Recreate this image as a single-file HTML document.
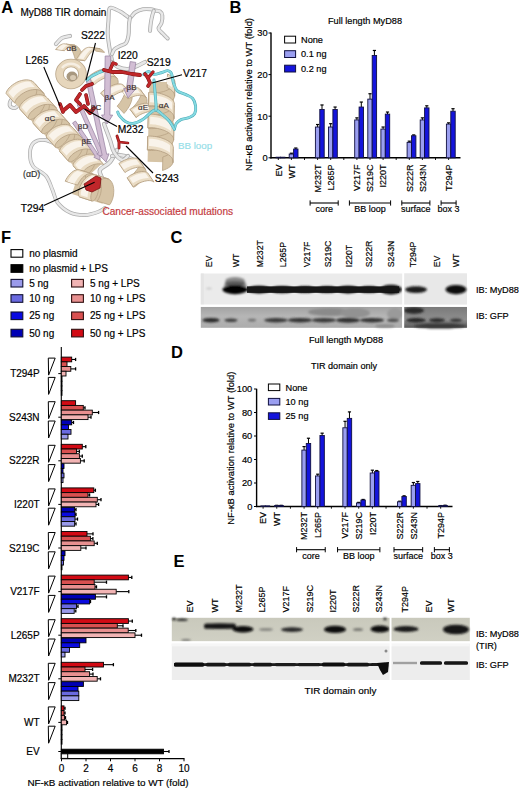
<!DOCTYPE html>
<html><head><meta charset="utf-8"><style>
html,body{margin:0;padding:0;background:#fff;width:520px;height:790px;overflow:hidden}
svg text{font-family:"Liberation Sans", sans-serif}
</style></head><body>
<svg width="520" height="790" viewBox="0 0 520 790" style="position:absolute;left:0;top:0">
<g font-family='"Liberation Sans", sans-serif'>
<text x="365.00" y="24.30" font-size="9.2" text-anchor="middle" fill="#000" font-weight="normal" stroke="#000" stroke-width="0.18" >Full length MyD88</text>
<text transform="translate(251.60,94.50) rotate(-90)" font-size="9.4" text-anchor="middle" fill="#000" stroke="#000" stroke-width="0.18">NF-κB activation relative to WT (fold)</text>
<text x="267.60" y="161.10" font-size="9.3" text-anchor="end" fill="#000" font-weight="normal" stroke="#000" stroke-width="0.18" >0</text>
<text x="267.60" y="119.50" font-size="9.3" text-anchor="end" fill="#000" font-weight="normal" stroke="#000" stroke-width="0.18" >10</text>
<text x="267.60" y="77.90" font-size="9.3" text-anchor="end" fill="#000" font-weight="normal" stroke="#000" stroke-width="0.18" >20</text>
<text x="267.60" y="36.30" font-size="9.3" text-anchor="end" fill="#000" font-weight="normal" stroke="#000" stroke-width="0.18" >30</text>
<rect x="284.60" y="36.20" width="11.00" height="6.80" fill="#fff" stroke="#000" stroke-width="1.0"/>
<text x="301.00" y="42.80" font-size="9.2" text-anchor="start" fill="#000" font-weight="normal" stroke="#000" stroke-width="0.18" >None</text>
<rect x="284.60" y="50.70" width="11.00" height="6.80" fill="#9a9ef0" stroke="#101040" stroke-width="1.0"/>
<text x="301.00" y="57.30" font-size="9.2" text-anchor="start" fill="#000" font-weight="normal" stroke="#000" stroke-width="0.18" >0.1 ng</text>
<rect x="284.60" y="65.20" width="11.00" height="6.80" fill="#1414dc" stroke="#101040" stroke-width="1.0"/>
<text x="301.00" y="71.80" font-size="9.2" text-anchor="start" fill="#000" font-weight="normal" stroke="#000" stroke-width="0.18" >0.2 ng</text>
<line x1="271.00" y1="32.50" x2="271.00" y2="158.40" stroke="#000" stroke-width="1.4"/>
<line x1="270.40" y1="157.80" x2="460.50" y2="157.80" stroke="#000" stroke-width="1.4"/>
<line x1="268.50" y1="157.80" x2="271.00" y2="157.80" stroke="#000" stroke-width="1"/>
<line x1="268.50" y1="116.20" x2="271.00" y2="116.20" stroke="#000" stroke-width="1"/>
<line x1="268.50" y1="74.60" x2="271.00" y2="74.60" stroke="#000" stroke-width="1"/>
<line x1="268.50" y1="33.00" x2="271.00" y2="33.00" stroke="#000" stroke-width="1"/>
<line x1="278.30" y1="157.80" x2="278.30" y2="160.00" stroke="#000" stroke-width="0.9"/>
<line x1="291.40" y1="157.80" x2="291.40" y2="160.00" stroke="#000" stroke-width="0.9"/>
<line x1="304.50" y1="157.80" x2="304.50" y2="160.00" stroke="#000" stroke-width="0.9"/>
<line x1="317.60" y1="157.80" x2="317.60" y2="160.00" stroke="#000" stroke-width="0.9"/>
<line x1="330.70" y1="157.80" x2="330.70" y2="160.00" stroke="#000" stroke-width="0.9"/>
<line x1="343.80" y1="157.80" x2="343.80" y2="160.00" stroke="#000" stroke-width="0.9"/>
<line x1="356.90" y1="157.80" x2="356.90" y2="160.00" stroke="#000" stroke-width="0.9"/>
<line x1="370.00" y1="157.80" x2="370.00" y2="160.00" stroke="#000" stroke-width="0.9"/>
<line x1="383.10" y1="157.80" x2="383.10" y2="160.00" stroke="#000" stroke-width="0.9"/>
<line x1="396.20" y1="157.80" x2="396.20" y2="160.00" stroke="#000" stroke-width="0.9"/>
<line x1="409.30" y1="157.80" x2="409.30" y2="160.00" stroke="#000" stroke-width="0.9"/>
<line x1="422.40" y1="157.80" x2="422.40" y2="160.00" stroke="#000" stroke-width="0.9"/>
<line x1="435.50" y1="157.80" x2="435.50" y2="160.00" stroke="#000" stroke-width="0.9"/>
<line x1="448.60" y1="157.80" x2="448.60" y2="160.00" stroke="#000" stroke-width="0.9"/>
<rect x="276.10" y="157.20" width="4.40" height="0.60" fill="#9a9ef0" stroke="#101040" stroke-width="0.9"/>
<rect x="280.50" y="157.20" width="4.40" height="0.60" fill="#1414dc" stroke="#101040" stroke-width="0.9"/>
<text transform="translate(281.50,164.40) rotate(-90)" font-size="9" text-anchor="end" fill="#000" stroke="#000" stroke-width="0.18">EV</text>
<line x1="291.40" y1="153.22" x2="291.40" y2="154.06" stroke="#000" stroke-width="1.0"/>
<line x1="289.80" y1="153.22" x2="293.00" y2="153.22" stroke="#000" stroke-width="1.2"/>
<rect x="289.20" y="154.06" width="4.40" height="3.74" fill="#9a9ef0" stroke="#101040" stroke-width="0.9"/>
<line x1="295.80" y1="148.02" x2="295.80" y2="149.06" stroke="#000" stroke-width="1.0"/>
<line x1="294.20" y1="148.02" x2="297.40" y2="148.02" stroke="#000" stroke-width="1.2"/>
<rect x="293.60" y="149.06" width="4.40" height="8.74" fill="#1414dc" stroke="#101040" stroke-width="0.9"/>
<text transform="translate(294.60,164.40) rotate(-90)" font-size="9" text-anchor="end" fill="#000" stroke="#000" stroke-width="0.18">WT</text>
<line x1="317.60" y1="124.52" x2="317.60" y2="127.02" stroke="#000" stroke-width="1.0"/>
<line x1="316.00" y1="124.52" x2="319.20" y2="124.52" stroke="#000" stroke-width="1.2"/>
<rect x="315.40" y="127.02" width="4.40" height="30.78" fill="#9a9ef0" stroke="#101040" stroke-width="0.9"/>
<line x1="322.00" y1="104.97" x2="322.00" y2="109.54" stroke="#000" stroke-width="1.0"/>
<line x1="320.40" y1="104.97" x2="323.60" y2="104.97" stroke="#000" stroke-width="1.2"/>
<rect x="319.80" y="109.54" width="4.40" height="48.26" fill="#1414dc" stroke="#101040" stroke-width="0.9"/>
<text transform="translate(320.80,164.40) rotate(-90)" font-size="9" text-anchor="end" fill="#000" stroke="#000" stroke-width="0.18">M232T</text>
<line x1="330.70" y1="123.69" x2="330.70" y2="127.02" stroke="#000" stroke-width="1.0"/>
<line x1="329.10" y1="123.69" x2="332.30" y2="123.69" stroke="#000" stroke-width="1.2"/>
<rect x="328.50" y="127.02" width="4.40" height="30.78" fill="#9a9ef0" stroke="#101040" stroke-width="0.9"/>
<line x1="335.10" y1="107.05" x2="335.10" y2="109.54" stroke="#000" stroke-width="1.0"/>
<line x1="333.50" y1="107.05" x2="336.70" y2="107.05" stroke="#000" stroke-width="1.2"/>
<rect x="332.90" y="109.54" width="4.40" height="48.26" fill="#1414dc" stroke="#101040" stroke-width="0.9"/>
<text transform="translate(333.90,164.40) rotate(-90)" font-size="9" text-anchor="end" fill="#000" stroke="#000" stroke-width="0.18">L265P</text>
<line x1="356.90" y1="117.86" x2="356.90" y2="119.94" stroke="#000" stroke-width="1.0"/>
<line x1="355.30" y1="117.86" x2="358.50" y2="117.86" stroke="#000" stroke-width="1.2"/>
<rect x="354.70" y="119.94" width="4.40" height="37.86" fill="#9a9ef0" stroke="#101040" stroke-width="0.9"/>
<line x1="361.30" y1="102.06" x2="361.30" y2="107.05" stroke="#000" stroke-width="1.0"/>
<line x1="359.70" y1="102.06" x2="362.90" y2="102.06" stroke="#000" stroke-width="1.2"/>
<rect x="359.10" y="107.05" width="4.40" height="50.75" fill="#1414dc" stroke="#101040" stroke-width="0.9"/>
<text transform="translate(360.10,164.40) rotate(-90)" font-size="9" text-anchor="end" fill="#000" stroke="#000" stroke-width="0.18">V217F</text>
<line x1="370.00" y1="93.74" x2="370.00" y2="99.14" stroke="#000" stroke-width="1.0"/>
<line x1="368.40" y1="93.74" x2="371.60" y2="93.74" stroke="#000" stroke-width="1.2"/>
<rect x="367.80" y="99.14" width="4.40" height="58.66" fill="#9a9ef0" stroke="#101040" stroke-width="0.9"/>
<line x1="374.40" y1="50.47" x2="374.40" y2="55.46" stroke="#000" stroke-width="1.0"/>
<line x1="372.80" y1="50.47" x2="376.00" y2="50.47" stroke="#000" stroke-width="1.2"/>
<rect x="372.20" y="55.46" width="4.40" height="102.34" fill="#1414dc" stroke="#101040" stroke-width="0.9"/>
<text transform="translate(373.20,164.40) rotate(-90)" font-size="9" text-anchor="end" fill="#000" stroke="#000" stroke-width="0.18">S219C</text>
<line x1="383.10" y1="127.02" x2="383.10" y2="129.10" stroke="#000" stroke-width="1.0"/>
<line x1="381.50" y1="127.02" x2="384.70" y2="127.02" stroke="#000" stroke-width="1.2"/>
<rect x="380.90" y="129.10" width="4.40" height="28.70" fill="#9a9ef0" stroke="#101040" stroke-width="0.9"/>
<line x1="387.50" y1="112.04" x2="387.50" y2="114.12" stroke="#000" stroke-width="1.0"/>
<line x1="385.90" y1="112.04" x2="389.10" y2="112.04" stroke="#000" stroke-width="1.2"/>
<rect x="385.30" y="114.12" width="4.40" height="43.68" fill="#1414dc" stroke="#101040" stroke-width="0.9"/>
<text transform="translate(386.30,164.40) rotate(-90)" font-size="9" text-anchor="end" fill="#000" stroke="#000" stroke-width="0.18">I220T</text>
<line x1="409.30" y1="141.16" x2="409.30" y2="142.41" stroke="#000" stroke-width="1.0"/>
<line x1="407.70" y1="141.16" x2="410.90" y2="141.16" stroke="#000" stroke-width="1.2"/>
<rect x="407.10" y="142.41" width="4.40" height="15.39" fill="#9a9ef0" stroke="#101040" stroke-width="0.9"/>
<line x1="413.70" y1="134.92" x2="413.70" y2="135.75" stroke="#000" stroke-width="1.0"/>
<line x1="412.10" y1="134.92" x2="415.30" y2="134.92" stroke="#000" stroke-width="1.2"/>
<rect x="411.50" y="135.75" width="4.40" height="22.05" fill="#1414dc" stroke="#101040" stroke-width="0.9"/>
<text transform="translate(412.50,164.40) rotate(-90)" font-size="9" text-anchor="end" fill="#000" stroke="#000" stroke-width="0.18">S222R</text>
<line x1="422.40" y1="117.86" x2="422.40" y2="119.94" stroke="#000" stroke-width="1.0"/>
<line x1="420.80" y1="117.86" x2="424.00" y2="117.86" stroke="#000" stroke-width="1.2"/>
<rect x="420.20" y="119.94" width="4.40" height="37.86" fill="#9a9ef0" stroke="#101040" stroke-width="0.9"/>
<line x1="426.80" y1="105.80" x2="426.80" y2="107.88" stroke="#000" stroke-width="1.0"/>
<line x1="425.20" y1="105.80" x2="428.40" y2="105.80" stroke="#000" stroke-width="1.2"/>
<rect x="424.60" y="107.88" width="4.40" height="49.92" fill="#1414dc" stroke="#101040" stroke-width="0.9"/>
<text transform="translate(425.60,164.40) rotate(-90)" font-size="9" text-anchor="end" fill="#000" stroke="#000" stroke-width="0.18">S243N</text>
<line x1="448.60" y1="122.86" x2="448.60" y2="124.10" stroke="#000" stroke-width="1.0"/>
<line x1="447.00" y1="122.86" x2="450.20" y2="122.86" stroke="#000" stroke-width="1.2"/>
<rect x="446.40" y="124.10" width="4.40" height="33.70" fill="#9a9ef0" stroke="#101040" stroke-width="0.9"/>
<line x1="453.00" y1="108.71" x2="453.00" y2="111.21" stroke="#000" stroke-width="1.0"/>
<line x1="451.40" y1="108.71" x2="454.60" y2="108.71" stroke="#000" stroke-width="1.2"/>
<rect x="450.80" y="111.21" width="4.40" height="46.59" fill="#1414dc" stroke="#101040" stroke-width="0.9"/>
<text transform="translate(451.80,164.40) rotate(-90)" font-size="9" text-anchor="end" fill="#000" stroke="#000" stroke-width="0.18">T294P</text>
<line x1="310.10" y1="203.00" x2="338.20" y2="203.00" stroke="#000" stroke-width="1.1"/>
<line x1="310.10" y1="200.40" x2="310.10" y2="205.60" stroke="#000" stroke-width="1.0"/>
<line x1="338.20" y1="200.40" x2="338.20" y2="205.60" stroke="#000" stroke-width="1.0"/>
<text x="324.15" y="212.20" font-size="9" text-anchor="middle" fill="#000" font-weight="normal" stroke="#000" stroke-width="0.18" >core</text>
<line x1="349.40" y1="203.00" x2="390.60" y2="203.00" stroke="#000" stroke-width="1.1"/>
<line x1="349.40" y1="200.40" x2="349.40" y2="205.60" stroke="#000" stroke-width="1.0"/>
<line x1="390.60" y1="200.40" x2="390.60" y2="205.60" stroke="#000" stroke-width="1.0"/>
<text x="370.00" y="212.20" font-size="9" text-anchor="middle" fill="#000" font-weight="normal" stroke="#000" stroke-width="0.18" >BB loop</text>
<line x1="401.80" y1="203.00" x2="429.90" y2="203.00" stroke="#000" stroke-width="1.1"/>
<line x1="401.80" y1="200.40" x2="401.80" y2="205.60" stroke="#000" stroke-width="1.0"/>
<line x1="429.90" y1="200.40" x2="429.90" y2="205.60" stroke="#000" stroke-width="1.0"/>
<text x="415.85" y="212.20" font-size="9" text-anchor="middle" fill="#000" font-weight="normal" stroke="#000" stroke-width="0.18" >surface</text>
<line x1="441.10" y1="203.00" x2="456.10" y2="203.00" stroke="#000" stroke-width="1.1"/>
<line x1="441.10" y1="200.40" x2="441.10" y2="205.60" stroke="#000" stroke-width="1.0"/>
<line x1="456.10" y1="200.40" x2="456.10" y2="205.60" stroke="#000" stroke-width="1.0"/>
<text x="448.60" y="212.20" font-size="9" text-anchor="middle" fill="#000" font-weight="normal" stroke="#000" stroke-width="0.18" >box 3</text>
<text x="344.00" y="369.00" font-size="9.1" text-anchor="middle" fill="#000" font-weight="normal" stroke="#000" stroke-width="0.18" >TIR domain only</text>
<text transform="translate(234.00,448.20) rotate(-90)" font-size="9.4" text-anchor="middle" fill="#000" stroke="#000" stroke-width="0.18">NF-κB activation relative to WT (fold)</text>
<text x="252.30" y="509.80" font-size="9.3" text-anchor="end" fill="#000" font-weight="normal" stroke="#000" stroke-width="0.18" >0</text>
<text x="252.30" y="486.30" font-size="9.3" text-anchor="end" fill="#000" font-weight="normal" stroke="#000" stroke-width="0.18" >20</text>
<text x="252.30" y="462.80" font-size="9.3" text-anchor="end" fill="#000" font-weight="normal" stroke="#000" stroke-width="0.18" >40</text>
<text x="252.30" y="439.30" font-size="9.3" text-anchor="end" fill="#000" font-weight="normal" stroke="#000" stroke-width="0.18" >60</text>
<text x="252.30" y="415.80" font-size="9.3" text-anchor="end" fill="#000" font-weight="normal" stroke="#000" stroke-width="0.18" >80</text>
<text x="252.30" y="392.30" font-size="9.3" text-anchor="end" fill="#000" font-weight="normal" stroke="#000" stroke-width="0.18" >100</text>
<rect x="268.40" y="384.00" width="11.40" height="6.60" fill="#fff" stroke="#000" stroke-width="1.0"/>
<text x="285.50" y="390.50" font-size="9.2" text-anchor="start" fill="#000" font-weight="normal" stroke="#000" stroke-width="0.18" >None</text>
<rect x="268.40" y="398.40" width="11.40" height="6.60" fill="#9a9ef0" stroke="#101040" stroke-width="1.0"/>
<text x="285.50" y="404.90" font-size="9.2" text-anchor="start" fill="#000" font-weight="normal" stroke="#000" stroke-width="0.18" >10 ng</text>
<rect x="268.40" y="412.80" width="11.40" height="6.60" fill="#1414dc" stroke="#101040" stroke-width="1.0"/>
<text x="285.50" y="419.30" font-size="9.2" text-anchor="start" fill="#000" font-weight="normal" stroke="#000" stroke-width="0.18" >25 ng</text>
<line x1="256.60" y1="388.80" x2="256.60" y2="507.10" stroke="#000" stroke-width="1.4"/>
<line x1="256.00" y1="506.50" x2="452.50" y2="506.50" stroke="#000" stroke-width="1.4"/>
<line x1="263.10" y1="506.50" x2="263.10" y2="508.70" stroke="#000" stroke-width="0.9"/>
<line x1="276.76" y1="506.50" x2="276.76" y2="508.70" stroke="#000" stroke-width="0.9"/>
<line x1="290.42" y1="506.50" x2="290.42" y2="508.70" stroke="#000" stroke-width="0.9"/>
<line x1="304.08" y1="506.50" x2="304.08" y2="508.70" stroke="#000" stroke-width="0.9"/>
<line x1="317.74" y1="506.50" x2="317.74" y2="508.70" stroke="#000" stroke-width="0.9"/>
<line x1="331.40" y1="506.50" x2="331.40" y2="508.70" stroke="#000" stroke-width="0.9"/>
<line x1="345.06" y1="506.50" x2="345.06" y2="508.70" stroke="#000" stroke-width="0.9"/>
<line x1="358.72" y1="506.50" x2="358.72" y2="508.70" stroke="#000" stroke-width="0.9"/>
<line x1="372.38" y1="506.50" x2="372.38" y2="508.70" stroke="#000" stroke-width="0.9"/>
<line x1="386.04" y1="506.50" x2="386.04" y2="508.70" stroke="#000" stroke-width="0.9"/>
<line x1="399.70" y1="506.50" x2="399.70" y2="508.70" stroke="#000" stroke-width="0.9"/>
<line x1="413.36" y1="506.50" x2="413.36" y2="508.70" stroke="#000" stroke-width="0.9"/>
<line x1="427.02" y1="506.50" x2="427.02" y2="508.70" stroke="#000" stroke-width="0.9"/>
<line x1="440.68" y1="506.50" x2="440.68" y2="508.70" stroke="#000" stroke-width="0.9"/>
<rect x="260.90" y="505.90" width="4.40" height="0.60" fill="#9a9ef0" stroke="#101040" stroke-width="0.9"/>
<rect x="265.30" y="505.90" width="4.40" height="0.60" fill="#1414dc" stroke="#101040" stroke-width="0.9"/>
<text transform="translate(266.30,512.00) rotate(-90)" font-size="9" text-anchor="end" fill="#000" stroke="#000" stroke-width="0.18">EV</text>
<line x1="276.76" y1="505.32" x2="276.76" y2="505.56" stroke="#000" stroke-width="1.0"/>
<line x1="275.16" y1="505.32" x2="278.36" y2="505.32" stroke="#000" stroke-width="1.2"/>
<rect x="274.56" y="505.56" width="4.40" height="0.94" fill="#9a9ef0" stroke="#101040" stroke-width="0.9"/>
<line x1="281.16" y1="505.32" x2="281.16" y2="505.56" stroke="#000" stroke-width="1.0"/>
<line x1="279.56" y1="505.32" x2="282.76" y2="505.32" stroke="#000" stroke-width="1.2"/>
<rect x="278.96" y="505.56" width="4.40" height="0.94" fill="#1414dc" stroke="#101040" stroke-width="0.9"/>
<text transform="translate(279.96,512.00) rotate(-90)" font-size="9" text-anchor="end" fill="#000" stroke="#000" stroke-width="0.18">WT</text>
<line x1="304.08" y1="446.57" x2="304.08" y2="450.10" stroke="#000" stroke-width="1.0"/>
<line x1="302.48" y1="446.57" x2="305.68" y2="446.57" stroke="#000" stroke-width="1.2"/>
<rect x="301.88" y="450.10" width="4.40" height="56.40" fill="#9a9ef0" stroke="#101040" stroke-width="0.9"/>
<line x1="308.48" y1="438.23" x2="308.48" y2="443.52" stroke="#000" stroke-width="1.0"/>
<line x1="306.88" y1="438.23" x2="310.08" y2="438.23" stroke="#000" stroke-width="1.2"/>
<rect x="306.28" y="443.52" width="4.40" height="62.98" fill="#1414dc" stroke="#101040" stroke-width="0.9"/>
<text transform="translate(307.28,512.00) rotate(-90)" font-size="9" text-anchor="end" fill="#000" stroke="#000" stroke-width="0.18">M232T</text>
<line x1="317.74" y1="474.19" x2="317.74" y2="475.95" stroke="#000" stroke-width="1.0"/>
<line x1="316.14" y1="474.19" x2="319.34" y2="474.19" stroke="#000" stroke-width="1.2"/>
<rect x="315.54" y="475.95" width="4.40" height="30.55" fill="#9a9ef0" stroke="#101040" stroke-width="0.9"/>
<line x1="322.14" y1="433.18" x2="322.14" y2="435.53" stroke="#000" stroke-width="1.0"/>
<line x1="320.54" y1="433.18" x2="323.74" y2="433.18" stroke="#000" stroke-width="1.2"/>
<rect x="319.94" y="435.53" width="4.40" height="70.97" fill="#1414dc" stroke="#101040" stroke-width="0.9"/>
<text transform="translate(320.94,512.00) rotate(-90)" font-size="9" text-anchor="end" fill="#000" stroke="#000" stroke-width="0.18">L265P</text>
<line x1="345.06" y1="421.31" x2="345.06" y2="427.77" stroke="#000" stroke-width="1.0"/>
<line x1="343.46" y1="421.31" x2="346.66" y2="421.31" stroke="#000" stroke-width="1.2"/>
<rect x="342.86" y="427.77" width="4.40" height="78.73" fill="#9a9ef0" stroke="#101040" stroke-width="0.9"/>
<line x1="349.46" y1="411.91" x2="349.46" y2="418.38" stroke="#000" stroke-width="1.0"/>
<line x1="347.86" y1="411.91" x2="351.06" y2="411.91" stroke="#000" stroke-width="1.2"/>
<rect x="347.26" y="418.38" width="4.40" height="88.12" fill="#1414dc" stroke="#101040" stroke-width="0.9"/>
<text transform="translate(348.26,512.00) rotate(-90)" font-size="9" text-anchor="end" fill="#000" stroke="#000" stroke-width="0.18">V217F</text>
<line x1="358.72" y1="502.39" x2="358.72" y2="502.98" stroke="#000" stroke-width="1.0"/>
<line x1="357.12" y1="502.39" x2="360.32" y2="502.39" stroke="#000" stroke-width="1.2"/>
<rect x="356.52" y="502.98" width="4.40" height="3.53" fill="#9a9ef0" stroke="#101040" stroke-width="0.9"/>
<line x1="363.12" y1="499.45" x2="363.12" y2="500.04" stroke="#000" stroke-width="1.0"/>
<line x1="361.52" y1="499.45" x2="364.72" y2="499.45" stroke="#000" stroke-width="1.2"/>
<rect x="360.92" y="500.04" width="4.40" height="6.46" fill="#1414dc" stroke="#101040" stroke-width="0.9"/>
<text transform="translate(361.92,512.00) rotate(-90)" font-size="9" text-anchor="end" fill="#000" stroke="#000" stroke-width="0.18">S219C</text>
<line x1="372.38" y1="470.19" x2="372.38" y2="473.01" stroke="#000" stroke-width="1.0"/>
<line x1="370.78" y1="470.19" x2="373.98" y2="470.19" stroke="#000" stroke-width="1.2"/>
<rect x="370.18" y="473.01" width="4.40" height="33.49" fill="#9a9ef0" stroke="#101040" stroke-width="0.9"/>
<line x1="376.78" y1="470.55" x2="376.78" y2="471.49" stroke="#000" stroke-width="1.0"/>
<line x1="375.18" y1="470.55" x2="378.38" y2="470.55" stroke="#000" stroke-width="1.2"/>
<rect x="374.58" y="471.49" width="4.40" height="35.02" fill="#1414dc" stroke="#101040" stroke-width="0.9"/>
<text transform="translate(375.58,512.00) rotate(-90)" font-size="9" text-anchor="end" fill="#000" stroke="#000" stroke-width="0.18">I220T</text>
<line x1="399.70" y1="501.21" x2="399.70" y2="501.80" stroke="#000" stroke-width="1.0"/>
<line x1="398.10" y1="501.21" x2="401.30" y2="501.21" stroke="#000" stroke-width="1.2"/>
<rect x="397.50" y="501.80" width="4.40" height="4.70" fill="#9a9ef0" stroke="#101040" stroke-width="0.9"/>
<line x1="404.10" y1="495.81" x2="404.10" y2="496.51" stroke="#000" stroke-width="1.0"/>
<line x1="402.50" y1="495.81" x2="405.70" y2="495.81" stroke="#000" stroke-width="1.2"/>
<rect x="401.90" y="496.51" width="4.40" height="9.99" fill="#1414dc" stroke="#101040" stroke-width="0.9"/>
<text transform="translate(402.90,512.00) rotate(-90)" font-size="9" text-anchor="end" fill="#000" stroke="#000" stroke-width="0.18">S222R</text>
<line x1="413.36" y1="482.53" x2="413.36" y2="485.35" stroke="#000" stroke-width="1.0"/>
<line x1="411.76" y1="482.53" x2="414.96" y2="482.53" stroke="#000" stroke-width="1.2"/>
<rect x="411.16" y="485.35" width="4.40" height="21.15" fill="#9a9ef0" stroke="#101040" stroke-width="0.9"/>
<line x1="417.76" y1="481.47" x2="417.76" y2="483.59" stroke="#000" stroke-width="1.0"/>
<line x1="416.16" y1="481.47" x2="419.36" y2="481.47" stroke="#000" stroke-width="1.2"/>
<rect x="415.56" y="483.59" width="4.40" height="22.91" fill="#1414dc" stroke="#101040" stroke-width="0.9"/>
<text transform="translate(416.56,512.00) rotate(-90)" font-size="9" text-anchor="end" fill="#000" stroke="#000" stroke-width="0.18">S243N</text>
<line x1="440.68" y1="505.56" x2="440.68" y2="505.80" stroke="#000" stroke-width="1.0"/>
<line x1="439.08" y1="505.56" x2="442.28" y2="505.56" stroke="#000" stroke-width="1.2"/>
<rect x="438.48" y="505.80" width="4.40" height="0.70" fill="#9a9ef0" stroke="#101040" stroke-width="0.9"/>
<line x1="445.08" y1="505.21" x2="445.08" y2="505.44" stroke="#000" stroke-width="1.0"/>
<line x1="443.48" y1="505.21" x2="446.68" y2="505.21" stroke="#000" stroke-width="1.2"/>
<rect x="442.88" y="505.44" width="4.40" height="1.06" fill="#1414dc" stroke="#101040" stroke-width="0.9"/>
<text transform="translate(443.88,512.00) rotate(-90)" font-size="9" text-anchor="end" fill="#000" stroke="#000" stroke-width="0.18">T294P</text>
<line x1="296.58" y1="549.70" x2="325.24" y2="549.70" stroke="#000" stroke-width="1.1"/>
<line x1="296.58" y1="547.10" x2="296.58" y2="552.30" stroke="#000" stroke-width="1.0"/>
<line x1="325.24" y1="547.10" x2="325.24" y2="552.30" stroke="#000" stroke-width="1.0"/>
<text x="310.91" y="558.90" font-size="9" text-anchor="middle" fill="#000" font-weight="normal" stroke="#000" stroke-width="0.18" >core</text>
<line x1="337.56" y1="549.70" x2="379.88" y2="549.70" stroke="#000" stroke-width="1.1"/>
<line x1="337.56" y1="547.10" x2="337.56" y2="552.30" stroke="#000" stroke-width="1.0"/>
<line x1="379.88" y1="547.10" x2="379.88" y2="552.30" stroke="#000" stroke-width="1.0"/>
<text x="358.72" y="558.90" font-size="9" text-anchor="middle" fill="#000" font-weight="normal" stroke="#000" stroke-width="0.18" >BB loop</text>
<line x1="394.00" y1="549.70" x2="422.66" y2="549.70" stroke="#000" stroke-width="1.1"/>
<line x1="394.00" y1="547.10" x2="394.00" y2="552.30" stroke="#000" stroke-width="1.0"/>
<line x1="422.66" y1="547.10" x2="422.66" y2="552.30" stroke="#000" stroke-width="1.0"/>
<text x="408.33" y="558.90" font-size="9" text-anchor="middle" fill="#000" font-weight="normal" stroke="#000" stroke-width="0.18" >surface</text>
<line x1="434.38" y1="549.70" x2="449.38" y2="549.70" stroke="#000" stroke-width="1.1"/>
<line x1="434.38" y1="547.10" x2="434.38" y2="552.30" stroke="#000" stroke-width="1.0"/>
<line x1="449.38" y1="547.10" x2="449.38" y2="552.30" stroke="#000" stroke-width="1.0"/>
<text x="441.88" y="558.90" font-size="9" text-anchor="middle" fill="#000" font-weight="normal" stroke="#000" stroke-width="0.18" >box 3</text>
<line x1="254.00" y1="506.50" x2="256.60" y2="506.50" stroke="#000" stroke-width="1"/>
<line x1="254.00" y1="483.00" x2="256.60" y2="483.00" stroke="#000" stroke-width="1"/>
<line x1="254.00" y1="459.50" x2="256.60" y2="459.50" stroke="#000" stroke-width="1"/>
<line x1="254.00" y1="436.00" x2="256.60" y2="436.00" stroke="#000" stroke-width="1"/>
<line x1="254.00" y1="412.50" x2="256.60" y2="412.50" stroke="#000" stroke-width="1"/>
<line x1="254.00" y1="389.00" x2="256.60" y2="389.00" stroke="#000" stroke-width="1"/>
<defs><filter id="soft" x="-5%" y="-5%" width="110%" height="110%"><feGaussianBlur stdDeviation="0.35"/></filter></defs><g filter="url(#soft)">
<path d="M112.3 61.5 C111.9 59.7 110.8 55.4 110.0 50.8 C109.2 46.2 108.0 38.9 107.7 33.8 C107.5 28.7 108.3 24.0 108.5 20.0 C108.7 16.0 108.6 12.1 109.0 10.0 C109.4 7.9 109.9 7.8 111.0 7.7 C112.1 7.6 113.7 8.4 115.4 9.2 C117.2 10.0 119.6 11.1 121.5 12.3 C123.4 13.5 125.6 15.3 127.0 16.2 C128.4 17.1 128.6 18.3 130.0 17.7 C131.4 17.1 133.2 13.7 135.4 12.3 C137.6 10.9 140.4 9.7 143.0 9.2 C145.6 8.7 148.8 9.0 150.8 9.2 C152.8 9.4 153.5 10.1 155.0 10.5 C156.5 10.9 158.8 10.7 160.0 11.5 C161.2 12.3 162.1 13.5 162.3 15.4 C162.6 17.3 162.1 20.8 161.5 23.0 C160.9 25.2 158.2 26.7 158.5 28.5 C158.8 30.3 161.5 32.1 163.0 33.8 C164.5 35.5 166.9 37.7 167.7 38.5" fill="none" stroke="#acacac" stroke-width="4.0" stroke-linecap="round" stroke-linejoin="round"/>
<path d="M112.3 61.5 C111.9 59.7 110.8 55.4 110.0 50.8 C109.2 46.2 108.0 38.9 107.7 33.8 C107.5 28.7 108.3 24.0 108.5 20.0 C108.7 16.0 108.6 12.1 109.0 10.0 C109.4 7.9 109.9 7.8 111.0 7.7 C112.1 7.6 113.7 8.4 115.4 9.2 C117.2 10.0 119.6 11.1 121.5 12.3 C123.4 13.5 125.6 15.3 127.0 16.2 C128.4 17.1 128.6 18.3 130.0 17.7 C131.4 17.1 133.2 13.7 135.4 12.3 C137.6 10.9 140.4 9.7 143.0 9.2 C145.6 8.7 148.8 9.0 150.8 9.2 C152.8 9.4 153.5 10.1 155.0 10.5 C156.5 10.9 158.8 10.7 160.0 11.5 C161.2 12.3 162.1 13.5 162.3 15.4 C162.6 17.3 162.1 20.8 161.5 23.0 C160.9 25.2 158.2 26.7 158.5 28.5 C158.8 30.3 161.5 32.1 163.0 33.8 C164.5 35.5 166.9 37.7 167.7 38.5" fill="none" stroke="#e8e8e8" stroke-width="2.4" stroke-linecap="round" stroke-linejoin="round"/>
<path d="M130.0 17.7 C129.8 18.9 129.2 21.7 129.0 24.6 C128.8 27.6 129.0 32.3 128.5 35.4 C128.0 38.5 127.4 41.2 126.0 43.0 C124.6 44.8 121.9 45.0 120.0 46.0 C118.1 47.0 115.9 47.9 114.6 49.2 C113.3 50.5 112.4 53.2 112.0 54.0" fill="none" stroke="#acacac" stroke-width="4.0" stroke-linecap="round" stroke-linejoin="round"/>
<path d="M130.0 17.7 C129.8 18.9 129.2 21.7 129.0 24.6 C128.8 27.6 129.0 32.3 128.5 35.4 C128.0 38.5 127.4 41.2 126.0 43.0 C124.6 44.8 121.9 45.0 120.0 46.0 C118.1 47.0 115.9 47.9 114.6 49.2 C113.3 50.5 112.4 53.2 112.0 54.0" fill="none" stroke="#e8e8e8" stroke-width="2.4" stroke-linecap="round" stroke-linejoin="round"/>
<path d="M153.8 10.8 C153.6 11.6 152.8 13.4 152.3 15.4 C151.8 17.4 151.2 20.4 150.8 23.0 C150.4 25.6 150.1 29.5 150.0 30.8" fill="none" stroke="#acacac" stroke-width="4.0" stroke-linecap="round" stroke-linejoin="round"/>
<path d="M153.8 10.8 C153.6 11.6 152.8 13.4 152.3 15.4 C151.8 17.4 151.2 20.4 150.8 23.0 C150.4 25.6 150.1 29.5 150.0 30.8" fill="none" stroke="#e8e8e8" stroke-width="2.4" stroke-linecap="round" stroke-linejoin="round"/>
<path d="M57.5 145.0 C55.4 144.2 48.9 140.4 45.0 140.0 C41.1 139.6 36.5 140.4 34.0 142.5 C31.5 144.6 30.2 148.6 30.0 152.5 C29.8 156.4 30.3 162.1 33.0 166.0 C35.7 169.9 42.8 172.0 46.0 176.0 C49.2 180.0 50.6 185.6 52.5 190.0 C54.4 194.4 54.6 198.8 57.5 202.5 C60.4 206.2 65.4 210.4 70.0 212.5 C74.6 214.6 80.3 215.1 85.0 215.0 C89.7 214.9 94.7 213.2 98.0 212.0 C101.3 210.8 103.8 208.7 105.0 208.0" fill="none" stroke="#acacac" stroke-width="3.8" stroke-linecap="round" stroke-linejoin="round"/>
<path d="M57.5 145.0 C55.4 144.2 48.9 140.4 45.0 140.0 C41.1 139.6 36.5 140.4 34.0 142.5 C31.5 144.6 30.2 148.6 30.0 152.5 C29.8 156.4 30.3 162.1 33.0 166.0 C35.7 169.9 42.8 172.0 46.0 176.0 C49.2 180.0 50.6 185.6 52.5 190.0 C54.4 194.4 54.6 198.8 57.5 202.5 C60.4 206.2 65.4 210.4 70.0 212.5 C74.6 214.6 80.3 215.1 85.0 215.0 C89.7 214.9 94.7 213.2 98.0 212.0 C101.3 210.8 103.8 208.7 105.0 208.0" fill="none" stroke="#e8e8e8" stroke-width="2.4" stroke-linecap="round" stroke-linejoin="round"/>
<path d="M56.0 44.0 C57.0 43.0 59.7 39.3 62.0 38.0 C64.3 36.7 68.7 36.3 70.0 36.0" fill="none" stroke="#acacac" stroke-width="4.2" stroke-linecap="round" stroke-linejoin="round"/>
<path d="M56.0 44.0 C57.0 43.0 59.7 39.3 62.0 38.0 C64.3 36.7 68.7 36.3 70.0 36.0" fill="none" stroke="#e8e8e8" stroke-width="2.6" stroke-linecap="round" stroke-linejoin="round"/>
<path d="M16.0 96.0 C15.2 96.7 12.0 98.3 11.0 100.0 C10.0 101.7 9.3 104.7 10.0 106.0 C10.7 107.3 13.5 108.3 15.0 108.0 C16.5 107.7 18.3 104.7 19.0 104.0" fill="none" stroke="#acacac" stroke-width="4.0" stroke-linecap="round" stroke-linejoin="round"/>
<path d="M16.0 96.0 C15.2 96.7 12.0 98.3 11.0 100.0 C10.0 101.7 9.3 104.7 10.0 106.0 C10.7 107.3 13.5 108.3 15.0 108.0 C16.5 107.7 18.3 104.7 19.0 104.0" fill="none" stroke="#e8e8e8" stroke-width="2.4" stroke-linecap="round" stroke-linejoin="round"/>
<path d="M117.0 150.0 C115.8 152.0 112.8 158.7 110.0 162.0 C107.2 165.3 101.3 167.3 100.0 170.0 C98.7 172.7 101.7 176.7 102.0 178.0" fill="none" stroke="#acacac" stroke-width="4.4" stroke-linecap="round" stroke-linejoin="round"/>
<path d="M117.0 150.0 C115.8 152.0 112.8 158.7 110.0 162.0 C107.2 165.3 101.3 167.3 100.0 170.0 C98.7 172.7 101.7 176.7 102.0 178.0" fill="none" stroke="#e8e8e8" stroke-width="2.8" stroke-linecap="round" stroke-linejoin="round"/>
<path d="M140.0 165.0 C138.3 163.8 133.3 159.7 130.0 158.0 C126.7 156.3 123.0 155.3 120.0 155.0 C117.0 154.7 113.3 155.8 112.0 156.0" fill="none" stroke="#acacac" stroke-width="4.2" stroke-linecap="round" stroke-linejoin="round"/>
<path d="M140.0 165.0 C138.3 163.8 133.3 159.7 130.0 158.0 C126.7 156.3 123.0 155.3 120.0 155.0 C117.0 154.7 113.3 155.8 112.0 156.0" fill="none" stroke="#e8e8e8" stroke-width="2.6" stroke-linecap="round" stroke-linejoin="round"/>
<path d="M112.0 62.0 C113.0 62.8 115.3 65.8 118.0 67.0 C120.7 68.2 124.8 69.2 128.0 69.0 C131.2 68.8 134.2 67.2 137.0 66.0 C139.8 64.8 143.7 62.7 145.0 62.0" fill="none" stroke="#acacac" stroke-width="4.2" stroke-linecap="round" stroke-linejoin="round"/>
<path d="M112.0 62.0 C113.0 62.8 115.3 65.8 118.0 67.0 C120.7 68.2 124.8 69.2 128.0 69.0 C131.2 68.8 134.2 67.2 137.0 66.0 C139.8 64.8 143.7 62.7 145.0 62.0" fill="none" stroke="#e8e8e8" stroke-width="2.6" stroke-linecap="round" stroke-linejoin="round"/>
<path d="M104.0 124.0 C105.0 126.7 108.3 135.3 110.0 140.0 C111.7 144.7 112.0 148.7 114.0 152.0 C116.0 155.3 119.7 159.3 122.0 160.0 C124.3 160.7 127.0 156.7 128.0 156.0" fill="none" stroke="#acacac" stroke-width="4.2" stroke-linecap="round" stroke-linejoin="round"/>
<path d="M104.0 124.0 C105.0 126.7 108.3 135.3 110.0 140.0 C111.7 144.7 112.0 148.7 114.0 152.0 C116.0 155.3 119.7 159.3 122.0 160.0 C124.3 160.7 127.0 156.7 128.0 156.0" fill="none" stroke="#e8e8e8" stroke-width="2.6" stroke-linecap="round" stroke-linejoin="round"/>
<polygon points="117.2,78.5 117.8,79.7 118.1,81.0 118.2,82.4 118.0,84.0 117.6,85.7 117.1,87.5 116.3,89.3 115.4,91.0 114.4,92.7 113.4,94.3 112.3,95.8 111.3,97.1 110.3,98.2 109.5,99.1 108.7,99.8 108.2,100.3 107.8,100.5 107.7,100.5 100.8,93.2 101.0,93.2 101.3,93.0 101.9,92.5 102.6,91.9 103.5,91.0 104.4,89.8 105.5,88.5 106.5,87.1 107.6,85.5 108.6,83.8 109.5,82.0 110.2,80.2 110.8,78.5 111.1,76.7 111.3,75.1 111.2,73.7 110.9,72.4 110.3,71.3" fill="#d6c4a6" stroke="#b7a284" stroke-width="0.8" stroke-linejoin="round"/>
<polygon points="131.4,93.7 131.9,94.9 132.1,96.3 132.1,97.8 131.9,99.4 131.4,101.2 130.8,102.9 130.0,104.7 129.1,106.5 128.1,108.1 127.0,109.7 126.0,111.1 124.9,112.4 124.0,113.4 117.1,106.1 118.1,105.1 119.1,103.8 120.2,102.4 121.2,100.8 122.2,99.2 123.1,97.4 123.9,95.6 124.6,93.9 125.0,92.2 125.2,90.5 125.2,89.0 125.0,87.6 124.5,86.4" fill="#d6c4a6" stroke="#b7a284" stroke-width="0.8" stroke-linejoin="round"/>
<polygon points="94.6,84.6 95.3,83.8 96.3,83.0 97.5,82.1 98.9,81.1 100.5,80.2 102.2,79.2 103.9,78.4 105.7,77.6 107.6,77.0 109.4,76.6 111.1,76.3 112.6,76.3 114.1,76.5 115.3,77.0 116.4,77.6 117.2,78.5 110.3,71.3 109.5,70.4 108.5,69.7 107.2,69.2 105.8,69.0 104.2,69.0 102.5,69.3 100.7,69.7 98.9,70.3 97.1,71.1 95.3,71.9 93.6,72.9 92.1,73.9 90.7,74.8 89.5,75.7 88.5,76.6 87.7,77.3" fill="#eadcc4" stroke="#b7a284" stroke-width="0.9" stroke-linejoin="round"/>
<polygon points="93.4,81.8 94.4,81.0 95.6,80.1 97.0,79.1 98.5,78.1 100.2,77.2 102.0,76.3 103.8,75.6 105.6,75.0 107.4,74.5 109.1,74.3 110.7,74.3 106.9,70.3 105.3,70.3 103.6,70.5 101.9,71.0 100.0,71.6 98.2,72.3 96.5,73.2 94.8,74.1 93.2,75.1 91.8,76.1 90.6,77.0 89.6,77.8" fill="#f9f3ea"/>
<polygon points="107.7,100.5 107.8,100.2 108.2,99.8 108.8,99.2 109.6,98.4 110.7,97.6 111.9,96.6 113.4,95.7 115.0,94.7 116.7,93.8 118.5,92.9 120.3,92.2 122.1,91.7 123.9,91.3 125.6,91.1 127.1,91.2 128.5,91.5 129.7,92.0 130.6,92.8 131.4,93.7 124.5,86.4 123.8,85.5 122.8,84.7 121.6,84.2 120.3,83.9 118.7,83.9 117.0,84.0 115.3,84.4 113.5,85.0 111.7,85.7 109.9,86.5 108.1,87.4 106.5,88.4 105.1,89.3 103.8,90.3 102.7,91.1 101.9,91.9 101.3,92.5 100.9,92.9 100.8,93.2" fill="#eadcc4" stroke="#b7a284" stroke-width="0.9" stroke-linejoin="round"/>
<polygon points="106.8,97.1 107.7,96.4 108.7,95.5 110.0,94.6 111.5,93.6 113.1,92.7 114.8,91.7 116.6,90.9 118.4,90.2 120.2,89.6 122.0,89.3 123.6,89.1 125.2,89.2 121.4,85.1 119.9,85.1 118.2,85.3 116.4,85.6 114.6,86.2 112.8,86.9 111.0,87.7 109.3,88.6 107.7,89.6 106.2,90.6 105.0,91.5 103.9,92.4 103.0,93.1" fill="#f9f3ea"/>
<polygon points="146.3,97.7 146.8,98.7 147.0,99.9 147.1,101.2 146.9,102.6 146.5,104.1 145.9,105.6 145.1,107.2 144.2,108.7 143.2,110.2 142.2,111.6 141.1,112.9 140.1,114.0 139.1,115.0 138.2,115.9 137.4,116.6 136.8,117.0 136.3,117.3 136.1,117.5 136.1,117.4 130.1,109.4 130.1,109.5 130.3,109.3 130.8,109.0 131.4,108.6 132.2,107.9 133.1,107.0 134.1,106.0 135.1,104.9 136.2,103.6 137.2,102.2 138.2,100.7 139.1,99.2 139.9,97.6 140.5,96.1 140.9,94.6 141.1,93.2 141.0,91.9 140.8,90.7 140.3,89.7" fill="#d6c4a6" stroke="#b7a284" stroke-width="0.8" stroke-linejoin="round"/>
<polygon points="158.6,114.4 159.0,115.5 159.1,116.8 159.0,118.1 158.6,119.6 158.1,121.1 152.1,113.1 152.6,111.6 153.0,110.1 153.1,108.8 153.0,107.5 152.6,106.4" fill="#d6c4a6" stroke="#b7a284" stroke-width="0.8" stroke-linejoin="round"/>
<polygon points="127.9,98.9 129.3,98.2 130.7,97.5 132.3,96.9 134.0,96.3 135.7,95.8 137.4,95.5 139.1,95.3 140.7,95.2 142.1,95.4 143.5,95.7 144.6,96.2 145.5,96.8 146.3,97.7 140.3,89.7 139.5,88.8 138.6,88.2 137.5,87.7 136.1,87.4 134.7,87.2 133.1,87.3 131.4,87.5 129.7,87.8 128.0,88.3 126.3,88.9 124.7,89.5 123.3,90.2 121.9,90.9" fill="#eadcc4" stroke="#b7a284" stroke-width="0.9" stroke-linejoin="round"/>
<polygon points="126.2,96.7 127.5,96.0 129.0,95.3 130.6,94.7 132.3,94.1 134.0,93.6 135.7,93.3 137.3,93.1 138.9,93.0 140.4,93.2 137.1,88.8 135.6,88.6 134.0,88.7 132.4,88.9 130.7,89.2 129.0,89.7 127.3,90.3 125.7,90.9 124.2,91.6 122.9,92.3" fill="#f9f3ea"/>
<polygon points="136.1,117.4 136.3,117.2 136.8,116.8 137.5,116.3 138.4,115.8 139.5,115.1 140.8,114.4 142.2,113.7 143.8,113.1 145.5,112.5 147.2,112.0 148.9,111.6 150.5,111.3 152.2,111.2 153.7,111.3 155.0,111.5 156.2,112.0 157.3,112.6 158.1,113.4 158.6,114.4 152.6,106.4 152.1,105.4 151.3,104.6 150.2,104.0 149.0,103.5 147.7,103.3 146.2,103.2 144.5,103.3 142.9,103.6 141.2,104.0 139.5,104.5 137.8,105.1 136.2,105.7 134.8,106.4 133.5,107.1 132.4,107.8 131.5,108.3 130.8,108.8 130.3,109.2 130.1,109.4" fill="#eadcc4" stroke="#b7a284" stroke-width="0.9" stroke-linejoin="round"/>
<polygon points="135.7,114.1 136.6,113.6 137.7,112.9 139.0,112.2 140.5,111.5 142.0,110.9 143.7,110.3 145.4,109.8 147.1,109.4 148.8,109.1 150.4,109.0 151.9,109.1 148.6,104.7 147.1,104.6 145.5,104.7 143.8,105.0 142.1,105.4 140.4,105.9 138.7,106.5 137.2,107.1 135.7,107.8 134.4,108.5 133.3,109.2 132.4,109.7" fill="#f9f3ea"/>
<polygon points="10.5,98.6 85.5,178.4 102.7,163.1 31.3,79.9" fill="#d6c4a6"/>
<polygon points="43.9,93.6 44.8,95.3 45.3,97.2 45.5,99.3 45.4,101.6 44.9,103.9 44.1,106.2 43.0,108.5 41.7,110.6 40.3,112.7 38.7,114.5 37.0,116.1 35.3,117.4 33.7,118.4 32.2,119.1 30.9,119.4 29.8,119.5 29.0,119.2 28.4,118.6 19.7,108.9 20.3,109.5 21.1,109.8 22.2,109.8 23.6,109.4 25.1,108.7 26.7,107.7 28.3,106.4 30.0,104.8 31.6,103.0 33.1,101.0 34.3,98.8 35.4,96.5 36.2,94.2 36.7,91.9 36.8,89.6 36.6,87.5 36.1,85.6 35.2,83.9" fill="#d6c4a6" stroke="#b7a284" stroke-width="0.8" stroke-linejoin="round"/>
<polygon points="56.2,107.9 57.2,109.5 57.8,111.3 58.1,113.3 58.1,115.5 57.7,117.7 57.1,120.0 56.1,122.2 54.9,124.4 53.6,126.4 52.1,128.2 50.5,129.9 48.9,131.2 47.3,132.3 45.9,133.1 44.5,133.5 43.4,133.6 42.5,133.5 41.9,133.0 33.2,123.3 33.8,123.8 34.7,124.0 35.8,123.8 37.2,123.4 38.6,122.6 40.2,121.6 41.8,120.2 43.4,118.6 44.9,116.7 46.3,114.7 47.4,112.5 48.4,110.3 49.1,108.0 49.4,105.8 49.5,103.7 49.2,101.7 48.5,99.8 47.5,98.2" fill="#d6c4a6" stroke="#b7a284" stroke-width="0.8" stroke-linejoin="round"/>
<polygon points="69.6,123.8 70.3,125.5 70.7,127.4 70.8,129.5 70.6,131.6 70.0,133.8 69.2,136.0 68.1,138.1 66.8,140.1 65.4,142.0 63.9,143.6 62.4,145.0 60.9,146.2 59.4,147.0 58.1,147.6 57.0,147.8 56.1,147.7 55.4,147.4 55.1,146.7 46.4,137.1 46.7,137.7 47.4,138.0 48.3,138.1 49.4,137.9 50.8,137.3 52.2,136.5 53.7,135.4 55.3,134.0 56.8,132.3 58.2,130.5 59.4,128.4 60.5,126.3 61.3,124.1 61.9,121.9 62.1,119.8 62.0,117.7 61.6,115.8 60.9,114.1" fill="#d6c4a6" stroke="#b7a284" stroke-width="0.8" stroke-linejoin="round"/>
<polygon points="82.0,138.1 82.8,139.7 83.3,141.5 83.5,143.5 83.3,145.5 82.9,147.7 82.2,149.8 81.2,151.9 80.1,153.9 78.8,155.7 77.3,157.4 75.9,158.8 74.4,160.0 73.0,160.9 71.7,161.6 70.6,161.9 69.6,161.9 68.9,161.7 68.5,161.2 59.8,151.5 60.3,152.0 61.0,152.2 61.9,152.2 63.0,151.9 64.3,151.3 65.7,150.4 67.2,149.2 68.7,147.7 70.1,146.1 71.4,144.2 72.5,142.2 73.5,140.1 74.2,138.0 74.6,135.9 74.8,133.8 74.6,131.8 74.1,130.0 73.3,128.4" fill="#d6c4a6" stroke="#b7a284" stroke-width="0.8" stroke-linejoin="round"/>
<polygon points="94.3,152.5 95.2,154.0 95.8,155.7 96.1,157.5 96.0,159.5 95.7,161.6 95.1,163.6 94.3,165.7 93.2,167.7 92.0,169.5 90.7,171.2 89.3,172.7 87.9,173.9 86.6,174.9 85.3,175.6 84.1,176.0 83.2,176.1 82.5,175.9 82.0,175.5 73.3,165.9 73.8,166.3 74.5,166.4 75.5,166.3 76.6,165.9 77.9,165.2 79.2,164.2 80.6,163.0 82.0,161.5 83.3,159.8 84.6,158.0 85.6,156.0 86.4,154.0 87.0,151.9 87.4,149.8 87.4,147.9 87.1,146.0 86.5,144.3 85.7,142.8" fill="#d6c4a6" stroke="#b7a284" stroke-width="0.8" stroke-linejoin="round"/>
<polygon points="14.8,103.2 15.0,102.0 15.6,100.6 16.5,99.1 17.8,97.6 19.4,96.0 21.2,94.5 23.3,93.2 25.5,91.9 27.9,90.9 30.3,90.1 32.7,89.7 35.0,89.5 37.3,89.6 39.3,90.1 41.1,91.0 42.7,92.1 43.9,93.6 35.2,83.9 34.0,82.4 32.4,81.3 30.6,80.5 28.6,80.0 26.4,79.8 24.0,80.0 21.6,80.5 19.2,81.2 16.8,82.2 14.6,83.5 12.5,84.9 10.7,86.4 9.1,87.9 7.8,89.5 6.9,91.0 6.3,92.3 6.1,93.5" fill="#eadcc4" stroke="#b7a284" stroke-width="0.9" stroke-linejoin="round"/>
<polygon points="13.2,98.0 14.2,96.6 15.4,95.0 17.0,93.5 18.9,92.0 20.9,90.6 23.2,89.3 25.5,88.3 27.9,87.6 30.3,87.1 32.7,86.9 34.9,87.1 30.1,81.8 27.9,81.6 25.6,81.8 23.2,82.2 20.7,83.0 18.4,84.0 16.1,85.3 14.1,86.6 12.2,88.1 10.7,89.7 9.4,91.2 8.5,92.7" fill="#f9f3ea"/>
<polygon points="28.4,118.6 28.2,117.7 28.3,116.7 28.8,115.4 29.6,114.0 30.7,112.5 32.2,111.0 33.9,109.6 35.9,108.2 38.0,107.0 40.3,105.9 42.6,105.1 45.0,104.6 47.3,104.4 49.5,104.4 51.5,104.8 53.4,105.6 54.9,106.6 56.2,107.9 47.5,98.2 46.2,96.9 44.7,95.9 42.8,95.2 40.8,94.8 38.6,94.7 36.3,94.9 33.9,95.5 31.6,96.3 29.3,97.3 27.2,98.5 25.2,99.9 23.5,101.4 22.1,102.9 20.9,104.3 20.1,105.7 19.6,107.0 19.5,108.1 19.7,108.9" fill="#eadcc4" stroke="#b7a284" stroke-width="0.9" stroke-linejoin="round"/>
<polygon points="26.4,112.8 27.3,111.4 28.4,110.0 29.8,108.5 31.6,107.0 33.5,105.6 35.7,104.4 37.9,103.4 40.3,102.6 42.6,102.0 44.9,101.8 47.1,101.9 42.3,96.5 40.1,96.5 37.8,96.7 35.5,97.2 33.1,98.0 30.9,99.1 28.7,100.3 26.8,101.7 25.1,103.1 23.6,104.6 22.5,106.1 21.7,107.5" fill="#f9f3ea"/>
<polygon points="41.9,133.0 41.6,132.3 41.7,131.3 42.0,130.1 42.7,128.8 43.7,127.4 45.1,126.0 46.7,124.6 48.5,123.2 50.5,122.0 52.7,121.0 55.0,120.1 57.3,119.6 59.5,119.2 61.7,119.2 63.7,119.5 65.6,120.2 67.2,121.1 68.6,122.3 69.6,123.8 60.9,114.1 59.9,112.6 58.5,111.4 56.9,110.5 55.1,109.9 53.0,109.6 50.8,109.6 48.6,109.9 46.3,110.5 44.0,111.3 41.9,112.3 39.8,113.6 38.0,114.9 36.4,116.3 35.1,117.8 34.0,119.2 33.3,120.5 33.0,121.6 32.9,122.6 33.2,123.3" fill="#eadcc4" stroke="#b7a284" stroke-width="0.9" stroke-linejoin="round"/>
<polygon points="39.7,127.5 40.4,126.2 41.4,124.9 42.7,123.4 44.3,122.0 46.2,120.7 48.2,119.4 50.4,118.4 52.6,117.6 54.9,117.0 57.2,116.7 59.3,116.7 54.6,111.3 52.4,111.3 50.1,111.7 47.8,112.2 45.6,113.1 43.4,114.1 41.4,115.3 39.5,116.7 37.9,118.1 36.6,119.5 35.6,120.9 34.9,122.2" fill="#f9f3ea"/>
<polygon points="55.1,146.7 55.0,145.9 55.3,144.8 55.9,143.6 56.8,142.3 58.0,140.9 59.5,139.6 61.2,138.3 63.1,137.1 65.2,136.0 67.4,135.1 69.6,134.5 71.8,134.2 74.0,134.1 76.0,134.3 77.8,134.8 79.5,135.6 80.9,136.7 82.0,138.1 73.3,128.4 72.2,127.1 70.8,126.0 69.1,125.1 67.3,124.6 65.3,124.4 63.1,124.5 60.9,124.8 58.7,125.5 56.5,126.3 54.4,127.4 52.5,128.6 50.8,129.9 49.3,131.3 48.1,132.6 47.2,133.9 46.6,135.1 46.3,136.2 46.4,137.1" fill="#eadcc4" stroke="#b7a284" stroke-width="0.9" stroke-linejoin="round"/>
<polygon points="53.5,141.0 54.4,139.7 55.6,138.4 57.1,137.0 58.9,135.7 60.8,134.5 62.9,133.4 65.0,132.6 67.2,131.9 69.5,131.6 71.6,131.5 73.6,131.7 68.8,126.4 66.8,126.2 64.7,126.3 62.5,126.6 60.3,127.2 58.1,128.1 56.0,129.2 54.1,130.4 52.4,131.7 50.9,133.0 49.7,134.4 48.7,135.7" fill="#f9f3ea"/>
<polygon points="68.5,161.2 68.4,160.4 68.6,159.4 69.1,158.3 69.9,157.1 71.0,155.8 72.3,154.5 74.0,153.2 75.8,152.1 77.7,151.0 79.8,150.1 82.0,149.5 84.1,149.1 86.2,148.9 88.2,149.1 90.1,149.5 91.8,150.2 93.2,151.2 94.3,152.5 85.7,142.8 84.5,141.5 83.1,140.5 81.4,139.8 79.5,139.4 77.5,139.2 75.4,139.4 73.3,139.8 71.1,140.5 69.1,141.3 67.1,142.4 65.3,143.6 63.7,144.8 62.3,146.1 61.2,147.4 60.4,148.7 59.9,149.8 59.7,150.7 59.8,151.5" fill="#eadcc4" stroke="#b7a284" stroke-width="0.9" stroke-linejoin="round"/>
<polygon points="66.7,155.8 67.5,154.5 68.6,153.2 70.0,151.9 71.6,150.7 73.4,149.5 75.4,148.4 77.5,147.6 79.6,146.9 81.8,146.5 83.9,146.3 85.9,146.5 81.1,141.2 79.1,141.0 77.0,141.2 74.8,141.6 72.7,142.2 70.6,143.1 68.6,144.2 66.8,145.3 65.2,146.6 63.8,147.9 62.7,149.2 61.9,150.4" fill="#f9f3ea"/>
<polygon points="82.0,175.5 81.8,174.9 81.9,174.0 82.3,173.0 83.0,171.9 84.0,170.7 85.2,169.4 86.7,168.2 88.5,167.0 90.3,166.0 92.3,165.1 94.4,164.4 96.5,164.0 98.5,163.8 100.5,163.9 102.4,164.2 104.0,164.8 95.3,155.2 93.7,154.5 91.8,154.2 89.9,154.1 87.8,154.3 85.7,154.8 83.6,155.5 81.6,156.3 79.8,157.4 78.1,158.5 76.6,159.8 75.3,161.0 74.3,162.2 73.6,163.3 73.2,164.4 73.1,165.2 73.3,165.9" fill="#eadcc4" stroke="#b7a284" stroke-width="0.9" stroke-linejoin="round"/>
<polygon points="79.9,170.4 80.6,169.3 81.6,168.1 82.9,166.8 84.4,165.6 86.1,164.5 88.0,163.4 90.0,162.6 92.0,161.9 94.1,161.4 96.2,161.2 98.2,161.3 93.4,156.0 91.4,155.9 89.3,156.1 87.3,156.5 85.2,157.2 83.2,158.1 81.3,159.2 79.6,160.3 78.1,161.5 76.9,162.8 75.9,164.0 75.2,165.1" fill="#f9f3ea"/>
<polygon points="72.5,123.0 95.3,156.3 93.8,157.3 100.0,160.0 99.7,153.2 98.2,154.2 75.5,121.0" fill="#d2bed4" stroke="#9c88a6" stroke-width="0.8" stroke-linejoin="round"/>
<polygon points="77.2,104.8 98.6,153.0 96.7,153.8 103.0,158.0 104.1,150.5 102.2,151.3 80.8,103.2" fill="#d2bed4" stroke="#9c88a6" stroke-width="0.8" stroke-linejoin="round"/>
<polygon points="85.8,78.5 102.2,155.3 100.0,155.8 106.0,162.0 109.0,153.8 106.7,154.3 90.2,77.5" fill="#d2bed4" stroke="#9c88a6" stroke-width="0.8" stroke-linejoin="round"/>
<polygon points="105.2,56.0 104.3,115.0 101.5,115.0 107.0,124.0 112.7,115.1 109.9,115.1 110.8,56.0" fill="#d2bed4" stroke="#9c88a6" stroke-width="0.8" stroke-linejoin="round"/>
<polygon points="130.2,61.6 126.5,88.7 123.7,88.4 128.0,98.0 134.8,89.9 132.0,89.5 135.8,62.4" fill="#d2bed4" stroke="#9c88a6" stroke-width="0.8" stroke-linejoin="round"/>
<polygon points="149.4,81.6 147.6,161.8 172.6,162.4 174.4,82.2" fill="#d6c4a6"/>
<polygon points="174.6,96.3 174.2,97.7 173.5,99.0 172.4,100.2 171.0,101.4 169.3,102.5 167.3,103.5 165.2,104.3 163.0,105.1 160.8,105.6 158.6,106.1 156.4,106.4 154.4,106.6 152.6,106.7 151.1,106.7 149.9,106.6 149.0,106.5 148.5,106.3 148.4,106.1 148.7,92.6 148.8,92.8 149.3,93.0 150.2,93.1 151.4,93.2 153.0,93.2 154.7,93.1 156.7,92.9 158.9,92.6 161.1,92.1 163.4,91.6 165.6,90.8 167.6,90.0 169.6,89.0 171.3,87.9 172.7,86.8 173.8,85.5 174.5,84.2 174.9,82.8" fill="#d6c4a6" stroke="#b7a284" stroke-width="0.8" stroke-linejoin="round"/>
<polygon points="173.9,118.9 173.3,120.3 172.4,121.6 171.2,122.8 169.6,123.9 167.8,125.0 165.8,125.9 163.6,126.7 161.4,127.3 159.1,127.8 156.9,128.2 154.9,128.4 153.0,128.6 151.3,128.6 149.9,128.6 148.9,128.5 148.2,128.3 147.9,128.1 147.9,127.9 148.3,114.4 148.2,114.6 148.5,114.8 149.2,115.0 150.2,115.1 151.6,115.1 153.3,115.1 155.2,114.9 157.2,114.7 159.4,114.3 161.7,113.8 163.9,113.2 166.1,112.4 168.1,111.5 169.9,110.4 171.5,109.3 172.7,108.1 173.7,106.8 174.2,105.4" fill="#d6c4a6" stroke="#b7a284" stroke-width="0.8" stroke-linejoin="round"/>
<polygon points="173.6,140.2 173.2,141.6 172.4,142.9 171.3,144.1 169.9,145.3 168.2,146.4 166.2,147.4 164.1,148.2 161.9,148.9 159.7,149.5 157.4,149.9 155.3,150.2 153.3,150.4 151.6,150.5 150.0,150.5 148.8,150.4 148.0,150.3 147.5,150.1 147.4,149.9 147.7,136.4 147.8,136.6 148.3,136.8 149.1,136.9 150.3,137.0 151.9,137.0 153.6,136.9 155.6,136.8 157.8,136.4 160.0,136.0 162.2,135.4 164.4,134.7 166.5,133.9 168.5,132.9 170.2,131.8 171.6,130.7 172.7,129.4 173.5,128.1 173.9,126.7" fill="#d6c4a6" stroke="#b7a284" stroke-width="0.8" stroke-linejoin="round"/>
<polygon points="172.9,162.8 172.3,164.2 171.4,165.5 170.1,166.7 168.5,167.8 166.7,168.8 164.6,169.7 162.5,170.5 162.8,157.0 164.9,156.2 167.0,155.3 168.8,154.3 170.4,153.2 171.7,152.0 172.6,150.7 173.2,149.3" fill="#d6c4a6" stroke="#b7a284" stroke-width="0.8" stroke-linejoin="round"/>
<polygon points="167.2,87.5 169.1,88.5 170.8,89.7 172.3,90.9 173.4,92.2 174.1,93.5 174.5,94.9 174.6,96.3 174.9,82.8 174.9,81.4 174.5,80.0 173.7,78.7 172.6,77.4 171.1,76.2 169.4,75.0 167.5,74.0" fill="#eadcc4" stroke="#b7a284" stroke-width="0.9" stroke-linejoin="round"/>
<polygon points="166.9,84.0 168.8,85.1 170.5,86.2 171.9,87.4 172.1,80.0 170.7,78.8 169.0,77.7 167.0,76.6" fill="#f9f3ea"/>
<polygon points="148.4,106.1 148.6,105.9 149.2,105.8 150.2,105.7 151.5,105.7 153.1,105.8 155.0,106.0 157.0,106.3 159.2,106.8 161.4,107.4 163.6,108.1 165.7,109.0 167.7,109.9 169.6,111.0 171.1,112.2 172.4,113.5 173.3,114.8 173.9,116.2 174.1,117.6 173.9,118.9 174.2,105.4 174.4,104.1 174.2,102.7 173.6,101.3 172.7,100.0 171.4,98.7 169.9,97.5 168.0,96.4 166.0,95.5 163.9,94.6 161.7,93.9 159.5,93.3 157.3,92.8 155.3,92.5 153.4,92.3 151.8,92.2 150.5,92.2 149.5,92.3 148.9,92.4 148.7,92.6" fill="#eadcc4" stroke="#b7a284" stroke-width="0.9" stroke-linejoin="round"/>
<polygon points="149.9,102.3 151.2,102.3 152.8,102.4 154.6,102.6 156.7,102.9 158.8,103.4 161.0,103.9 163.3,104.7 165.4,105.5 167.4,106.5 169.2,107.6 170.8,108.8 172.1,110.0 172.2,102.6 171.0,101.3 169.4,100.2 167.6,99.1 165.6,98.1 163.4,97.2 161.2,96.5 159.0,95.9 156.8,95.5 154.8,95.2 153.0,95.0 151.4,94.9 150.1,94.9" fill="#f9f3ea"/>
<polygon points="147.9,127.9 148.4,127.8 149.2,127.7 150.4,127.6 151.9,127.7 153.6,127.8 155.5,128.1 157.6,128.5 159.8,129.0 162.1,129.7 164.2,130.4 166.3,131.4 168.2,132.4 169.9,133.5 171.3,134.8 172.4,136.1 173.2,137.4 173.6,138.8 173.6,140.2 173.9,126.7 173.9,125.3 173.5,123.9 172.7,122.6 171.6,121.3 170.2,120.0 168.5,118.9 166.6,117.9 164.5,117.0 162.4,116.2 160.1,115.5 157.9,115.0 155.8,114.6 153.9,114.3 152.2,114.2 150.7,114.1 149.5,114.2 148.7,114.3 148.3,114.4" fill="#eadcc4" stroke="#b7a284" stroke-width="0.9" stroke-linejoin="round"/>
<polygon points="150.0,124.2 151.5,124.2 153.3,124.4 155.2,124.6 157.3,125.0 159.5,125.6 161.7,126.2 163.9,127.0 166.0,127.9 167.9,129.0 169.6,130.1 171.0,131.3 171.2,123.9 169.8,122.7 168.1,121.5 166.2,120.5 164.1,119.6 161.9,118.8 159.7,118.1 157.5,117.6 155.4,117.2 153.4,117.0 151.7,116.8 150.2,116.8" fill="#f9f3ea"/>
<polygon points="147.4,149.9 147.6,149.8 148.3,149.6 149.3,149.5 150.6,149.6 152.2,149.6 154.1,149.9 156.1,150.2 158.3,150.6 160.5,151.2 162.7,152.0 164.9,152.8 166.9,153.8 168.7,154.9 170.2,156.1 171.5,157.4 172.4,158.7 172.9,160.1 173.1,161.5 172.9,162.8 173.2,149.3 173.4,148.0 173.2,146.6 172.7,145.2 171.8,143.9 170.5,142.6 169.0,141.4 167.2,140.3 165.2,139.3 163.0,138.5 160.8,137.7 158.6,137.2 156.4,136.7 154.4,136.4 152.5,136.2 150.9,136.1 149.6,136.1 148.6,136.1 147.9,136.3 147.7,136.4" fill="#eadcc4" stroke="#b7a284" stroke-width="0.9" stroke-linejoin="round"/>
<polygon points="149.0,146.1 150.3,146.1 151.9,146.2 153.8,146.4 155.8,146.7 158.0,147.2 160.2,147.8 162.4,148.5 164.5,149.4 166.5,150.4 168.3,151.5 169.9,152.7 170.0,145.2 168.5,144.0 166.7,143.0 164.7,142.0 162.6,141.1 160.4,140.4 158.1,139.8 156.0,139.3 153.9,139.0 152.1,138.8 150.5,138.7 149.1,138.7" fill="#f9f3ea"/>
<polygon points="145.5,169.5 145.9,170.5 146.0,171.6 145.9,172.9 145.5,174.2 145.0,175.6 144.2,177.0 143.3,178.4 142.3,179.8 141.2,181.2 140.0,182.4 138.8,183.6 137.6,184.6 136.6,185.5 135.6,186.2 134.7,186.7 134.1,187.0 133.6,187.2 133.4,187.2 133.3,187.0 127.2,177.9 127.2,178.1 127.4,178.1 127.9,177.9 128.6,177.6 129.4,177.1 130.4,176.4 131.5,175.5 132.6,174.5 133.8,173.3 135.0,172.1 136.1,170.7 137.2,169.3 138.1,167.9 138.8,166.5 139.4,165.1 139.7,163.8 139.8,162.5 139.7,161.4 139.3,160.4" fill="#d6c4a6" stroke="#b7a284" stroke-width="0.8" stroke-linejoin="round"/>
<polygon points="125.0,172.6 125.7,172.1 126.7,171.4 127.8,170.7 129.2,170.0 130.6,169.3 132.2,168.7 133.9,168.1 135.6,167.7 137.2,167.3 138.9,167.1 140.4,167.1 141.8,167.2 143.0,167.5 144.1,168.0 144.9,168.7 145.5,169.5 139.3,160.4 138.7,159.6 137.9,158.9 136.8,158.4 135.6,158.1 134.2,158.0 132.7,158.0 131.1,158.2 129.4,158.6 127.7,159.0 126.1,159.6 124.5,160.2 123.0,160.9 121.7,161.6 120.5,162.3 119.5,163.0 118.8,163.5" fill="#eadcc4" stroke="#b7a284" stroke-width="0.9" stroke-linejoin="round"/>
<polygon points="123.9,169.6 124.9,169.0 126.0,168.3 127.4,167.6 128.9,166.9 130.4,166.3 132.1,165.7 133.8,165.2 135.4,164.9 137.1,164.7 138.6,164.6 140.0,164.8 136.6,159.7 135.2,159.6 133.7,159.7 132.1,159.9 130.4,160.2 128.7,160.7 127.0,161.3 125.5,161.9 124.0,162.6 122.6,163.3 121.5,164.0 120.5,164.6" fill="#f9f3ea"/>
<polygon points="133.3,187.0 133.6,186.7 134.0,186.2 134.8,185.7 135.7,185.0 136.8,184.3 138.1,183.6 139.6,182.9 141.2,182.3 142.8,181.7 144.5,181.2 146.2,180.9 147.8,180.6 149.3,180.6 150.8,180.7 152.0,181.0 153.1,181.4 154.0,182.1 147.8,173.0 146.9,172.3 145.8,171.9 144.6,171.6 143.2,171.5 141.6,171.5 140.0,171.8 138.3,172.1 136.6,172.6 135.0,173.2 133.4,173.8 132.0,174.5 130.6,175.2 129.5,175.9 128.6,176.6 127.9,177.1 127.4,177.6 127.2,177.9" fill="#eadcc4" stroke="#b7a284" stroke-width="0.9" stroke-linejoin="round"/>
<polygon points="133.0,183.2 133.9,182.6 135.0,181.9 136.3,181.2 137.8,180.5 139.4,179.8 141.0,179.3 142.7,178.8 144.4,178.4 146.0,178.2 147.5,178.1 149.0,178.2 145.6,173.2 144.1,173.1 142.6,173.2 141.0,173.4 139.3,173.8 137.6,174.3 136.0,174.8 134.4,175.5 132.9,176.2 131.6,176.9 130.5,177.6 129.6,178.2" fill="#f9f3ea"/>
<polygon points="72.0,194.1 102.5,203.7 110.0,179.9 79.5,170.3" fill="#d6c4a6"/>
<polygon points="93.5,174.3 94.8,175.2 95.9,176.4 96.9,177.9 97.7,179.6 98.2,181.6 98.6,183.7 98.7,185.9 98.6,188.2 98.4,190.4 98.0,192.6 97.4,194.6 96.7,196.4 96.0,197.9 95.2,199.2 94.3,200.2 93.5,200.8 92.7,201.1 92.1,201.0 79.7,197.0 80.3,197.1 81.1,196.9 81.9,196.3 82.8,195.3 83.6,194.0 84.3,192.4 85.0,190.6 85.6,188.6 86.0,186.5 86.3,184.3 86.3,182.0 86.2,179.8 85.8,177.7 85.3,175.7 84.5,174.0 83.6,172.4 82.4,171.2 81.1,170.4" fill="#d6c4a6" stroke="#b7a284" stroke-width="0.8" stroke-linejoin="round"/>
<polygon points="108.5,179.0 109.8,179.8 110.9,181.0 111.9,182.5 112.7,184.3 113.3,186.2 113.6,188.3 113.8,190.5 113.7,192.8 113.5,195.0 113.1,197.2 112.5,199.2 111.8,201.0 111.1,202.6 110.3,203.9 109.4,204.9 97.0,201.0 97.9,200.0 98.7,198.7 99.4,197.1 100.1,195.3 100.7,193.3 101.1,191.1 101.3,188.9 101.4,186.6 101.2,184.4 100.9,182.3 100.3,180.4 99.5,178.6 98.6,177.1 97.4,175.9 96.1,175.1" fill="#d6c4a6" stroke="#b7a284" stroke-width="0.8" stroke-linejoin="round"/>
<polygon points="77.6,185.1 78.6,183.1 79.8,181.2 81.1,179.3 82.5,177.7 84.0,176.3 85.7,175.1 87.3,174.2 88.9,173.7 90.6,173.5 92.1,173.7 93.5,174.3 81.1,170.4 79.7,169.8 78.2,169.6 76.5,169.8 74.9,170.3 73.3,171.2 71.7,172.4 70.1,173.8 68.7,175.4 67.4,177.3 66.2,179.2 65.2,181.2" fill="#eadcc4" stroke="#b7a284" stroke-width="0.9" stroke-linejoin="round"/>
<polygon points="74.4,183.8 75.4,181.8 76.6,179.9 77.9,178.1 79.3,176.4 80.9,175.0 82.5,173.8 84.1,173.0 77.3,170.8 75.7,171.7 74.0,172.8 72.5,174.3 71.1,175.9 69.7,177.7 68.6,179.7 67.6,181.7" fill="#f9f3ea"/>
<polygon points="92.1,201.0 91.5,200.5 91.1,199.7 90.8,198.6 90.8,197.3 90.9,195.7 91.3,193.9 91.9,192.0 92.6,190.0 93.6,188.0 94.7,186.0 96.0,184.2 97.5,182.5 99.0,181.1 100.6,179.9 102.3,179.0 103.9,178.5 105.5,178.3 107.1,178.5 108.5,179.0 96.1,175.1 94.7,174.5 93.1,174.4 91.5,174.6 89.9,175.1 88.2,176.0 86.6,177.2 85.1,178.6 83.6,180.3 82.3,182.1 81.2,184.1 80.2,186.1 79.5,188.0 78.9,190.0 78.5,191.7 78.4,193.3 78.5,194.7 78.7,195.8 79.1,196.6 79.7,197.0" fill="#eadcc4" stroke="#b7a284" stroke-width="0.9" stroke-linejoin="round"/>
<polygon points="87.7,197.3 87.6,196.0 87.8,194.4 88.1,192.6 88.7,190.7 89.4,188.7 90.4,186.7 91.6,184.8 92.9,182.9 94.3,181.3 95.8,179.8 97.4,178.6 99.1,177.8 92.3,175.6 90.6,176.5 89.0,177.7 87.5,179.1 86.0,180.8 84.7,182.6 83.6,184.5 82.6,186.5 81.9,188.5 81.3,190.4 80.9,192.2 80.8,193.8 80.8,195.2" fill="#f9f3ea"/>
<polygon points="75.0,45.3 76.0,45.7 77.0,46.4 77.9,47.1 78.8,48.0 79.6,49.1 80.3,50.3 81.0,51.5 81.5,52.7 82.1,54.0 82.5,55.2 82.9,56.4 83.2,57.5 83.5,58.4 83.8,59.2 84.0,59.9 84.2,60.4 84.5,60.6 84.7,60.7 75.8,59.5 75.6,59.4 75.3,59.1 75.1,58.7 74.8,58.0 74.6,57.2 74.3,56.3 74.0,55.2 73.6,54.0 73.1,52.8 72.6,51.5 72.1,50.3 71.4,49.0 70.7,47.9 69.9,46.8 69.0,45.9 68.1,45.1 67.1,44.5 66.0,44.1" fill="#d6c4a6" stroke="#b7a284" stroke-width="0.8" stroke-linejoin="round"/>
<polygon points="99.9,48.7 100.9,49.1 101.9,49.7 102.8,50.4 103.7,51.3 104.5,52.4 95.6,51.1 94.8,50.1 93.9,49.2 93.0,48.5 92.0,47.9 91.0,47.5" fill="#d6c4a6" stroke="#b7a284" stroke-width="0.8" stroke-linejoin="round"/>
<polygon points="64.5,50.7 65.4,49.6 66.3,48.6 67.3,47.7 68.4,46.8 69.5,46.1 70.6,45.6 71.7,45.2 72.8,45.1 73.9,45.1 75.0,45.3 66.0,44.1 65.0,43.9 63.9,43.9 62.8,44.0 61.6,44.4 60.5,44.9 59.5,45.6 58.4,46.4 57.4,47.4 56.5,48.4 55.6,49.5" fill="#eadcc4" stroke="#b7a284" stroke-width="0.9" stroke-linejoin="round"/>
<polygon points="62.1,50.0 63.0,48.9 63.9,47.9 64.9,47.0 66.0,46.2 67.1,45.5 68.2,44.9 63.3,44.3 62.1,44.8 61.1,45.5 60.0,46.3 59.0,47.3 58.1,48.3 57.2,49.3" fill="#f9f3ea"/>
<polygon points="84.7,60.7 85.0,60.6 85.4,60.3 85.7,59.8 86.2,59.1 86.7,58.3 87.3,57.4 87.9,56.4 88.7,55.3 89.5,54.3 90.3,53.2 91.3,52.2 92.3,51.2 93.3,50.4 94.4,49.6 95.5,49.1 96.6,48.7 97.7,48.5 98.8,48.5 99.9,48.7 91.0,47.5 89.9,47.3 88.8,47.3 87.7,47.5 86.5,47.9 85.4,48.4 84.4,49.1 83.3,50.0 82.3,50.9 81.4,52.0 80.5,53.0 79.7,54.1 79.0,55.2 78.4,56.2 77.8,57.1 77.3,57.9 76.8,58.5 76.4,59.0 76.1,59.4 75.8,59.5" fill="#eadcc4" stroke="#b7a284" stroke-width="0.9" stroke-linejoin="round"/>
<polygon points="83.3,59.1 83.8,58.4 84.3,57.6 84.9,56.7 85.5,55.7 86.2,54.7 87.1,53.6 87.9,52.5 88.9,51.5 89.8,50.5 90.9,49.7 92.0,49.0 93.1,48.4 88.2,47.7 87.1,48.3 86.0,49.0 84.9,49.9 84.0,50.8 83.0,51.8 82.1,52.9 81.3,54.0 80.6,55.0 80.0,56.1 79.4,57.0 78.9,57.8 78.4,58.4" fill="#f9f3ea"/>
<ellipse cx="71" cy="74" rx="11.5" ry="11" fill="none" stroke="#bba88c" stroke-width="8.5"/>
<ellipse cx="71" cy="74" rx="11.5" ry="11" fill="none" stroke="#e6d6bc" stroke-width="6.8"/>
<path d="M62 68 A11.5 11 0 0 1 80 68" fill="none" stroke="#f6eee2" stroke-width="2.5"/>
<ellipse cx="72" cy="76.5" rx="5.5" ry="5" fill="#a89880"/>
<ellipse cx="73" cy="77.5" rx="3" ry="2.6" fill="#d8cab4"/>
<path d="M87.0 80.0 C87.8 79.3 90.2 77.2 92.0 76.0 C93.8 74.8 96.2 73.8 98.0 73.0 C99.8 72.2 102.2 71.3 103.0 71.0" fill="none" stroke="#4aaab6" stroke-width="3.0" stroke-linecap="round" stroke-linejoin="round"/>
<path d="M87.0 80.0 C87.8 79.3 90.2 77.2 92.0 76.0 C93.8 74.8 96.2 73.8 98.0 73.0 C99.8 72.2 102.2 71.3 103.0 71.0" fill="none" stroke="#86dae2" stroke-width="2.0" stroke-linecap="round" stroke-linejoin="round"/>
<path d="M143.7 74.4 C144.5 73.9 146.8 71.5 148.5 71.5 C150.2 71.5 151.8 74.2 154.0 74.4 C156.2 74.6 159.7 73.1 162.0 72.5 C164.3 71.9 166.1 70.4 167.7 70.6 C169.3 70.8 170.5 71.4 171.5 73.5 C172.5 75.6 172.5 80.1 173.5 83.0 C174.5 85.9 175.2 88.9 177.3 90.8 C179.4 92.7 183.4 93.3 186.0 94.6 C188.6 95.9 191.1 96.6 192.7 98.5 C194.3 100.4 195.3 103.5 195.6 106.0 C195.9 108.5 195.7 111.8 194.6 113.8 C193.5 115.8 191.1 116.7 188.8 117.7 C186.5 118.7 183.1 118.6 181.0 119.6 C178.9 120.6 177.4 121.9 176.3 123.5 C175.2 125.1 174.7 128.2 174.4 129.2" fill="none" stroke="#4aaab6" stroke-width="2.9" stroke-linecap="round" stroke-linejoin="round"/>
<path d="M143.7 74.4 C144.5 73.9 146.8 71.5 148.5 71.5 C150.2 71.5 151.8 74.2 154.0 74.4 C156.2 74.6 159.7 73.1 162.0 72.5 C164.3 71.9 166.1 70.4 167.7 70.6 C169.3 70.8 170.5 71.4 171.5 73.5 C172.5 75.6 172.5 80.1 173.5 83.0 C174.5 85.9 175.2 88.9 177.3 90.8 C179.4 92.7 183.4 93.3 186.0 94.6 C188.6 95.9 191.1 96.6 192.7 98.5 C194.3 100.4 195.3 103.5 195.6 106.0 C195.9 108.5 195.7 111.8 194.6 113.8 C193.5 115.8 191.1 116.7 188.8 117.7 C186.5 118.7 183.1 118.6 181.0 119.6 C178.9 120.6 177.4 121.9 176.3 123.5 C175.2 125.1 174.7 128.2 174.4 129.2" fill="none" stroke="#86dae2" stroke-width="1.9" stroke-linecap="round" stroke-linejoin="round"/>
<path d="M174.4 129.2 C173.6 127.9 171.4 123.7 169.6 121.5 C167.8 119.3 166.1 117.7 163.8 115.8 C161.5 113.9 158.2 110.5 156.0 110.0 C153.8 109.5 152.6 111.3 150.4 112.9 C148.2 114.5 145.6 117.8 142.7 119.6 C139.8 121.4 135.9 123.2 133.0 123.5 C130.1 123.8 127.6 122.8 125.4 121.5 C123.2 120.2 120.9 117.4 119.6 115.8 C118.3 114.2 118.0 112.6 117.7 112.0" fill="none" stroke="#4aaab6" stroke-width="2.9" stroke-linecap="round" stroke-linejoin="round"/>
<path d="M174.4 129.2 C173.6 127.9 171.4 123.7 169.6 121.5 C167.8 119.3 166.1 117.7 163.8 115.8 C161.5 113.9 158.2 110.5 156.0 110.0 C153.8 109.5 152.6 111.3 150.4 112.9 C148.2 114.5 145.6 117.8 142.7 119.6 C139.8 121.4 135.9 123.2 133.0 123.5 C130.1 123.8 127.6 122.8 125.4 121.5 C123.2 120.2 120.9 117.4 119.6 115.8 C118.3 114.2 118.0 112.6 117.7 112.0" fill="none" stroke="#86dae2" stroke-width="1.9" stroke-linecap="round" stroke-linejoin="round"/>
<path d="M154.0 80.0 C154.2 82.0 154.7 88.0 155.0 92.0 C155.3 96.0 155.8 101.0 156.0 104.0 C156.2 107.0 156.0 109.0 156.0 110.0" fill="none" stroke="#4aaab6" stroke-width="2.9" stroke-linecap="round" stroke-linejoin="round"/>
<path d="M154.0 80.0 C154.2 82.0 154.7 88.0 155.0 92.0 C155.3 96.0 155.8 101.0 156.0 104.0 C156.2 107.0 156.0 109.0 156.0 110.0" fill="none" stroke="#86dae2" stroke-width="1.9" stroke-linecap="round" stroke-linejoin="round"/>
<path d="M104.0 70.0 L112.0 72.0 L122.0 72.0 L132.0 74.0 L140.0 75.0" fill="none" stroke="#7a1010" stroke-width="3.8" stroke-linecap="round" stroke-linejoin="round"/>
<path d="M110.0 70.0 L113.0 63.0 L116.0 64.0" fill="none" stroke="#7a1010" stroke-width="3.4" stroke-linecap="round" stroke-linejoin="round"/>
<path d="M145.0 74.0 L148.0 78.0 L150.0 83.0 L148.0 86.0" fill="none" stroke="#7a1010" stroke-width="3.6" stroke-linecap="round" stroke-linejoin="round"/>
<path d="M148.0 78.0 L153.0 72.0" fill="none" stroke="#7a1010" stroke-width="3.2" stroke-linecap="round" stroke-linejoin="round"/>
<path d="M82.0 90.0 L86.0 86.0 L92.0 84.0" fill="none" stroke="#7a1010" stroke-width="3.8" stroke-linecap="round" stroke-linejoin="round"/>
<path d="M80.0 94.0 L76.0 100.0 L80.0 104.0" fill="none" stroke="#7a1010" stroke-width="3.8" stroke-linecap="round" stroke-linejoin="round"/>
<path d="M64.0 110.0 L70.0 105.0 L76.0 112.0 L84.0 106.0 L90.0 113.0 L94.0 108.0" fill="none" stroke="#7a1010" stroke-width="4.0" stroke-linecap="round" stroke-linejoin="round"/>
<path d="M60.0 104.0 L63.0 112.0" fill="none" stroke="#7a1010" stroke-width="3.6" stroke-linecap="round" stroke-linejoin="round"/>
<path d="M86.0 95.0 L88.0 104.0" fill="none" stroke="#7a1010" stroke-width="3.6" stroke-linecap="round" stroke-linejoin="round"/>
<path d="M117.0 136.0 L119.0 142.0 L119.0 148.0" fill="none" stroke="#7a1010" stroke-width="2.8" stroke-linecap="round" stroke-linejoin="round"/>
<path d="M119.0 142.0 L128.0 143.0" fill="none" stroke="#7a1010" stroke-width="2.6" stroke-linecap="round" stroke-linejoin="round"/>
<path d="M104.0 70.0 L112.0 72.0 L122.0 72.0 L132.0 74.0 L140.0 75.0" fill="none" stroke="#c0282a" stroke-width="2.8" stroke-linecap="round" stroke-linejoin="round"/>
<path d="M110.0 70.0 L113.0 63.0 L116.0 64.0" fill="none" stroke="#c0282a" stroke-width="2.4" stroke-linecap="round" stroke-linejoin="round"/>
<path d="M145.0 74.0 L148.0 78.0 L150.0 83.0 L148.0 86.0" fill="none" stroke="#c0282a" stroke-width="2.6" stroke-linecap="round" stroke-linejoin="round"/>
<path d="M148.0 78.0 L153.0 72.0" fill="none" stroke="#c0282a" stroke-width="2.2" stroke-linecap="round" stroke-linejoin="round"/>
<path d="M82.0 90.0 L86.0 86.0 L92.0 84.0" fill="none" stroke="#c0282a" stroke-width="2.8" stroke-linecap="round" stroke-linejoin="round"/>
<path d="M80.0 94.0 L76.0 100.0 L80.0 104.0" fill="none" stroke="#c0282a" stroke-width="2.8" stroke-linecap="round" stroke-linejoin="round"/>
<path d="M64.0 110.0 L70.0 105.0 L76.0 112.0 L84.0 106.0 L90.0 113.0 L94.0 108.0" fill="none" stroke="#c0282a" stroke-width="3.0" stroke-linecap="round" stroke-linejoin="round"/>
<path d="M60.0 104.0 L63.0 112.0" fill="none" stroke="#c0282a" stroke-width="2.6" stroke-linecap="round" stroke-linejoin="round"/>
<path d="M86.0 95.0 L88.0 104.0" fill="none" stroke="#c0282a" stroke-width="2.6" stroke-linecap="round" stroke-linejoin="round"/>
<path d="M117.0 136.0 L119.0 142.0 L119.0 148.0" fill="none" stroke="#c0282a" stroke-width="1.8" stroke-linecap="round" stroke-linejoin="round"/>
<path d="M119.0 142.0 L128.0 143.0" fill="none" stroke="#c0282a" stroke-width="1.6" stroke-linecap="round" stroke-linejoin="round"/>
<path d="M84 184 L96 176 L101 178 L100 188 L92 192 L86 190 Z" fill="#c0282a" stroke="#7a1010" stroke-width="0.8"/>
</g>
<line x1="95.50" y1="43.00" x2="86.00" y2="80.00" stroke="#000" stroke-width="1.1"/>
<line x1="43.80" y1="67.00" x2="60.00" y2="106.00" stroke="#000" stroke-width="1.1"/>
<line x1="182.00" y1="74.80" x2="152.00" y2="83.00" stroke="#000" stroke-width="1.1"/>
<line x1="117.00" y1="126.50" x2="84.50" y2="109.00" stroke="#000" stroke-width="1.1"/>
<line x1="153.00" y1="173.00" x2="126.00" y2="146.00" stroke="#000" stroke-width="1.1"/>
<line x1="43.80" y1="205.40" x2="94.60" y2="182.30" stroke="#000" stroke-width="1.1"/>
<text x="20.40" y="16.40" font-size="10" text-anchor="start" fill="#000" font-weight="normal" stroke="#000" stroke-width="0.18" >MyD88 TIR domain</text>
<text x="81.00" y="38.50" font-size="10.3" text-anchor="start" fill="#000" font-weight="normal" stroke="#000" stroke-width="0.18" >S222</text>
<text x="25.50" y="64.00" font-size="10.3" text-anchor="start" fill="#000" font-weight="normal" stroke="#000" stroke-width="0.18" >L265</text>
<text x="117.70" y="59.40" font-size="10.3" text-anchor="start" fill="#000" font-weight="normal" stroke="#000" stroke-width="0.18" >I220</text>
<text x="146.70" y="66.30" font-size="10.3" text-anchor="start" fill="#000" font-weight="normal" stroke="#000" stroke-width="0.18" >S219</text>
<text x="183.00" y="77.00" font-size="10.3" text-anchor="start" fill="#000" font-weight="normal" stroke="#000" stroke-width="0.18" >V217</text>
<text x="117.70" y="133.00" font-size="10.3" text-anchor="start" fill="#000" font-weight="normal" stroke="#000" stroke-width="0.18" >M232</text>
<text x="154.80" y="181.70" font-size="10.3" text-anchor="start" fill="#000" font-weight="normal" stroke="#000" stroke-width="0.18" >S243</text>
<text x="20.80" y="211.70" font-size="10.3" text-anchor="start" fill="#000" font-weight="normal" stroke="#000" stroke-width="0.18" >T294</text>
<text x="177.90" y="149.40" font-size="9.8" text-anchor="start" fill="#96dee8" font-weight="normal" stroke="#96dee8" stroke-width="0.18" >BB loop</text>
<text x="102.40" y="215.30" font-size="10.1" text-anchor="start" fill="#c43a40" font-weight="normal" stroke="#c43a40" stroke-width="0.18" >Cancer-associated mutations</text>
<text x="23.00" y="176.50" font-size="8.8" text-anchor="start" fill="#333" font-weight="normal" stroke="#333" stroke-width="0.18" >(αD)</text>
<text x="71.50" y="50.50" font-size="8.0" text-anchor="middle" fill="#3a3030" font-weight="normal" stroke="#3a3030" stroke-width="0.18" >αB</text>
<text x="109.50" y="100.00" font-size="8.0" text-anchor="middle" fill="#3a3030" font-weight="normal" stroke="#3a3030" stroke-width="0.18" >βA</text>
<text x="131.50" y="90.00" font-size="8.0" text-anchor="middle" fill="#3a3030" font-weight="normal" stroke="#3a3030" stroke-width="0.18" >βB</text>
<text x="143.00" y="110.00" font-size="8.0" text-anchor="middle" fill="#3a3030" font-weight="normal" stroke="#3a3030" stroke-width="0.18" >αE</text>
<text x="163.80" y="108.00" font-size="8.0" text-anchor="middle" fill="#3a3030" font-weight="normal" stroke="#3a3030" stroke-width="0.18" >αA</text>
<text x="96.00" y="110.00" font-size="8.0" text-anchor="middle" fill="#3a3030" font-weight="normal" stroke="#3a3030" stroke-width="0.18" >βC</text>
<text x="50.00" y="120.70" font-size="8.0" text-anchor="middle" fill="#3a3030" font-weight="normal" stroke="#3a3030" stroke-width="0.18" >αC</text>
<text x="83.00" y="128.50" font-size="8.0" text-anchor="middle" fill="#3a3030" font-weight="normal" stroke="#3a3030" stroke-width="0.18" >βD</text>
<text x="86.50" y="143.80" font-size="8.0" text-anchor="middle" fill="#3a3030" font-weight="normal" stroke="#3a3030" stroke-width="0.18" >βE</text>
<text x="229.60" y="13.10" font-size="16.5" text-anchor="start" fill="#000" font-weight="bold" >B</text>
<text x="170.60" y="243.00" font-size="16.5" text-anchor="start" fill="#000" font-weight="bold" >C</text>
<text x="171.00" y="357.50" font-size="16.5" text-anchor="start" fill="#000" font-weight="bold" >D</text>
<text x="173.60" y="566.80" font-size="16.5" text-anchor="start" fill="#000" font-weight="bold" >E</text>
<text x="1.20" y="12.70" font-size="16.5" text-anchor="start" fill="#000" font-weight="bold" >A</text>
<text x="1.00" y="242.60" font-size="16.5" text-anchor="start" fill="#000" font-weight="bold" >F</text>
<defs>
<filter id="b1" x="-30%" y="-60%" width="160%" height="220%"><feGaussianBlur stdDeviation="1.1"/></filter>
<filter id="b2" x="-30%" y="-60%" width="160%" height="220%"><feGaussianBlur stdDeviation="0.7"/></filter>
<filter id="b3" x="-30%" y="-60%" width="160%" height="220%"><feGaussianBlur stdDeviation="2.2"/></filter>
<linearGradient id="gC2" x1="0" y1="0" x2="0" y2="1"><stop offset="0" stop-color="#a2a2a2"/><stop offset="0.45" stop-color="#b6b6b6"/><stop offset="1" stop-color="#acacac"/></linearGradient>
<linearGradient id="gC2r" x1="0" y1="0" x2="0" y2="1"><stop offset="0" stop-color="#7a7a7a"/><stop offset="0.6" stop-color="#8e8e8e"/><stop offset="1" stop-color="#5a5a5a"/></linearGradient>
<linearGradient id="gE1" x1="0" y1="0" x2="0" y2="1"><stop offset="0" stop-color="#c9c9bc"/><stop offset="1" stop-color="#d0d0c4"/></linearGradient>
</defs>
<text transform="translate(211.60,267.20) rotate(-90)" font-size="8.7" text-anchor="start" fill="#000" stroke="#000" stroke-width="0.18">EV</text>
<text transform="translate(238.60,267.20) rotate(-90)" font-size="8.7" text-anchor="start" fill="#000" stroke="#000" stroke-width="0.18">WT</text>
<text transform="translate(262.60,267.20) rotate(-90)" font-size="8.7" text-anchor="start" fill="#000" stroke="#000" stroke-width="0.18">M232T</text>
<text transform="translate(286.10,267.20) rotate(-90)" font-size="8.7" text-anchor="start" fill="#000" stroke="#000" stroke-width="0.18">L265P</text>
<text transform="translate(309.60,267.20) rotate(-90)" font-size="8.7" text-anchor="start" fill="#000" stroke="#000" stroke-width="0.18">V217F</text>
<text transform="translate(331.10,267.20) rotate(-90)" font-size="8.7" text-anchor="start" fill="#000" stroke="#000" stroke-width="0.18">S219C</text>
<text transform="translate(351.60,267.20) rotate(-90)" font-size="8.7" text-anchor="start" fill="#000" stroke="#000" stroke-width="0.18">I220T</text>
<text transform="translate(372.10,267.20) rotate(-90)" font-size="8.7" text-anchor="start" fill="#000" stroke="#000" stroke-width="0.18">S222R</text>
<text transform="translate(394.10,267.20) rotate(-90)" font-size="8.7" text-anchor="start" fill="#000" stroke="#000" stroke-width="0.18">S243N</text>
<text transform="translate(416.10,267.20) rotate(-90)" font-size="8.7" text-anchor="start" fill="#000" stroke="#000" stroke-width="0.18">T294P</text>
<text transform="translate(439.60,267.20) rotate(-90)" font-size="8.7" text-anchor="start" fill="#000" stroke="#000" stroke-width="0.18">EV</text>
<text transform="translate(459.10,267.20) rotate(-90)" font-size="8.7" text-anchor="start" fill="#000" stroke="#000" stroke-width="0.18">WT</text>
<rect x="200.80" y="273.50" width="266.00" height="31.20" fill="#ebebeb"/>
<rect x="200.80" y="273.50" width="3.00" height="31.20" fill="#e4e4e4"/>
<rect x="404.00" y="273.50" width="63.00" height="31.20" fill="#e8e8e8"/>
<g filter="url(#b1)">
<path d="M224 287 L226 279 Q235 275 244 279 L247 287 Z" fill="#8a8a8a"/>
<ellipse cx="235" cy="283.5" rx="10" ry="2.5" fill="#5a5a5a"/>
<ellipse cx="235" cy="289.6" rx="12.5" ry="4.6" fill="#050505"/>
<ellipse cx="259" cy="289.6" rx="12" ry="3.8" fill="#0e0e0e"/>
<ellipse cx="282" cy="289.6" rx="12" ry="3.6" fill="#121212"/>
<ellipse cx="305" cy="289.6" rx="11" ry="3.5" fill="#151515"/>
<ellipse cx="327" cy="289.6" rx="11" ry="3.5" fill="#161616"/>
<ellipse cx="348" cy="289.6" rx="11" ry="3.9" fill="#0e0e0e"/>
<ellipse cx="369" cy="289.6" rx="11" ry="3.5" fill="#161616"/>
<ellipse cx="391" cy="289.6" rx="11" ry="4.8" fill="#080808"/>
<ellipse cx="416" cy="289.6" rx="11" ry="3.3" fill="#1a1a1a"/>
<ellipse cx="456" cy="289.6" rx="10.5" ry="4.6" fill="#0c0c0c"/>
<ellipse cx="209" cy="288.5" rx="3" ry="0.8" fill="#bdbdbd"/>
</g>
<rect x="247" y="286.4" width="152" height="6.4" fill="#141414" filter="url(#b2)"/>
<rect x="200.80" y="306.80" width="201.40" height="21.00" fill="url(#gC2)"/>
<rect x="404.00" y="306.80" width="63.00" height="21.00" fill="url(#gC2r)"/>
<g filter="url(#b1)">
<ellipse cx="330" cy="312" rx="22" ry="4" fill="#8a8a8a"/>
<ellipse cx="355" cy="313" rx="15" ry="5" fill="#929292"/>
<ellipse cx="395" cy="314" rx="8" ry="6" fill="#9a9a9a"/>
<ellipse cx="211" cy="320.2" rx="8.5" ry="2.3" fill="#2a2a2a"/>
<ellipse cx="231" cy="320.2" rx="6.5" ry="1.8" fill="#404040"/>
<ellipse cx="252" cy="320.2" rx="4" ry="1.4" fill="#707070"/>
<ellipse cx="276" cy="320.2" rx="12" ry="2.2" fill="#3a3a3a"/>
<ellipse cx="300" cy="320.2" rx="12" ry="2.3" fill="#343434"/>
<ellipse cx="324" cy="320.2" rx="12" ry="2.3" fill="#3a3a3a"/>
<ellipse cx="348" cy="320.2" rx="12" ry="2.5" fill="#303030"/>
<ellipse cx="372" cy="320.2" rx="12" ry="2.3" fill="#363636"/>
<ellipse cx="393" cy="320.2" rx="6" ry="1.8" fill="#505050"/>
<ellipse cx="416" cy="320.2" rx="10" ry="2.2" fill="#262626"/>
<ellipse cx="437" cy="320.2" rx="8" ry="2.0" fill="#2a2a2a"/>
<ellipse cx="456" cy="320.2" rx="6" ry="1.8" fill="#3a3a3a"/>
<ellipse cx="414" cy="310.5" rx="10" ry="3.2" fill="#2a2a2a"/>
<ellipse cx="440" cy="326" rx="26" ry="2.6" fill="#3a3a3a"/>
<ellipse cx="385" cy="326" rx="10" ry="1.6" fill="#8a8a8a"/>
</g>
<rect x="402.20" y="272.00" width="2.00" height="58.00" fill="#fff"/>
<rect x="200.00" y="304.70" width="268.00" height="2.10" fill="#fff"/>
<text x="476.00" y="293.00" font-size="9.2" text-anchor="start" fill="#000" font-weight="normal" stroke="#000" stroke-width="0.18" >IB: MyD88</text>
<text x="476.00" y="318.70" font-size="9.2" text-anchor="start" fill="#000" font-weight="normal" stroke="#000" stroke-width="0.18" >IB: GFP</text>
<text x="346.00" y="343.40" font-size="9.2" text-anchor="middle" fill="#000" font-weight="normal" stroke="#000" stroke-width="0.18" >Full length MyD88</text>
<text transform="translate(192.70,612.50) rotate(-90)" font-size="9.0" text-anchor="start" fill="#000" stroke="#000" stroke-width="0.18">EV</text>
<text transform="translate(217.70,612.50) rotate(-90)" font-size="9.0" text-anchor="start" fill="#000" stroke="#000" stroke-width="0.18">WT</text>
<text transform="translate(242.20,612.50) rotate(-90)" font-size="9.0" text-anchor="start" fill="#000" stroke="#000" stroke-width="0.18">M232T</text>
<text transform="translate(265.20,612.50) rotate(-90)" font-size="9.0" text-anchor="start" fill="#000" stroke="#000" stroke-width="0.18">L265P</text>
<text transform="translate(288.70,612.50) rotate(-90)" font-size="9.0" text-anchor="start" fill="#000" stroke="#000" stroke-width="0.18">V217F</text>
<text transform="translate(312.70,612.50) rotate(-90)" font-size="9.0" text-anchor="start" fill="#000" stroke="#000" stroke-width="0.18">S219C</text>
<text transform="translate(336.20,612.50) rotate(-90)" font-size="9.0" text-anchor="start" fill="#000" stroke="#000" stroke-width="0.18">I220T</text>
<text transform="translate(359.20,612.50) rotate(-90)" font-size="9.0" text-anchor="start" fill="#000" stroke="#000" stroke-width="0.18">S222R</text>
<text transform="translate(382.20,612.50) rotate(-90)" font-size="9.0" text-anchor="start" fill="#000" stroke="#000" stroke-width="0.18">S243N</text>
<text transform="translate(408.20,612.50) rotate(-90)" font-size="9.0" text-anchor="start" fill="#000" stroke="#000" stroke-width="0.18">T294P</text>
<text transform="translate(431.70,612.50) rotate(-90)" font-size="9.0" text-anchor="start" fill="#000" stroke="#000" stroke-width="0.18">EV</text>
<text transform="translate(453.70,612.50) rotate(-90)" font-size="9.0" text-anchor="start" fill="#000" stroke="#000" stroke-width="0.18">WT</text>
<rect x="171.80" y="617.80" width="298.00" height="23.60" fill="url(#gE1)"/>
<g filter="url(#b1)">
<rect x="204" y="623.6" width="32" height="5.2" rx="2.6" fill="#161616"/>
<ellipse cx="220" cy="626.2" rx="15" ry="2.6" fill="#141414"/>
<ellipse cx="243" cy="629.2" rx="10.5" ry="3.2" fill="#0c0c0c"/>
<ellipse cx="266" cy="629.5" rx="7" ry="1.6" fill="#8a8a84"/>
<ellipse cx="292" cy="629.6" rx="11" ry="2.3" fill="#2a2a2a"/>
<ellipse cx="335" cy="629.4" rx="11" ry="3.6" fill="#0e0e0e"/>
<ellipse cx="358" cy="629.5" rx="5" ry="1.5" fill="#7a7a74"/>
<ellipse cx="380" cy="629" rx="9.5" ry="3.6" fill="#101010"/>
<ellipse cx="406" cy="629" rx="12.5" ry="3" fill="#1a1a1a"/>
<ellipse cx="456" cy="629.5" rx="13" ry="4.8" fill="#141414"/>
<ellipse cx="182" cy="619.8" rx="6" ry="1.2" fill="#2a2a2a"/>
<ellipse cx="174" cy="619" rx="1.6" ry="1.6" fill="#1a1a1a"/>
<ellipse cx="186" cy="640" rx="5" ry="0.8" fill="#5a5a5a"/>
<ellipse cx="385" cy="619" rx="1.6" ry="1.4" fill="#2a2a2a"/>
</g>
<rect x="171.80" y="643.40" width="298.00" height="36.60" fill="#ededed"/>
<rect x="171.80" y="643.40" width="298.00" height="3.00" fill="#f6f6f6"/>
<g filter="url(#b2)">
<rect x="174" y="663.2" width="212" height="2.8" fill="#1a1a1a"/>
<rect x="174" y="662.4" width="30" height="4.4" rx="1.5" fill="#0c0c0c"/>
<rect x="206" y="662.7" width="20" height="3.8" rx="1.5" fill="#141414"/>
<rect x="228" y="662.7" width="23" height="3.8" rx="1.5" fill="#141414"/>
<rect x="253" y="662.7" width="19" height="3.8" rx="1.5" fill="#181818"/>
<rect x="275" y="663.0" width="21" height="3.2" rx="1.5" fill="#1c1c1c"/>
<rect x="298" y="662.9" width="22" height="3.4" rx="1.5" fill="#1a1a1a"/>
<rect x="322" y="662.6" width="23" height="4.0" rx="1.5" fill="#101010"/>
<rect x="347" y="662.8" width="22" height="3.6" rx="1.5" fill="#161616"/>
<rect x="371" y="663.1" width="15" height="3.0" rx="1.5" fill="#1a1a1a"/>
<rect x="393" y="661.8" width="24" height="2.4" fill="#a0a0a0"/>
<rect x="420" y="661.2" width="22" height="3.6" rx="1.5" fill="#121212"/>
<rect x="444" y="661.2" width="24" height="3.6" rx="1.5" fill="#121212"/>
<path d="M377 663 L389 662 L388 672 L383 675 L380 670 Z" fill="#0a0a0a"/>
<ellipse cx="386" cy="651" rx="1.5" ry="1.5" fill="#8a8a8a"/>
</g>
<rect x="389.60" y="616.00" width="1.90" height="66.00" fill="#fff"/>
<rect x="171.00" y="641.40" width="300.00" height="2.00" fill="#fff"/>
<text x="476.00" y="636.70" font-size="9.2" text-anchor="start" fill="#000" font-weight="normal" stroke="#000" stroke-width="0.18" >IB: MyD88</text>
<text x="476.00" y="648.70" font-size="9.2" text-anchor="start" fill="#000" font-weight="normal" stroke="#000" stroke-width="0.18" >(TIR)</text>
<text x="476.00" y="668.00" font-size="9.2" text-anchor="start" fill="#000" font-weight="normal" stroke="#000" stroke-width="0.18" >IB: GFP</text>
<text x="340.40" y="693.80" font-size="9.9" text-anchor="middle" fill="#000" font-weight="normal" stroke="#000" stroke-width="0.18" >TIR domain only</text>
<rect x="11.00" y="249.60" width="11.80" height="7.60" fill="#fff" stroke="#000" stroke-width="1.1"/>
<text x="29.20" y="256.80" font-size="10" text-anchor="start" fill="#000" font-weight="normal" stroke="#000" stroke-width="0.18" >no plasmid</text>
<rect x="11.00" y="264.70" width="11.80" height="7.60" fill="#000" stroke="#000" stroke-width="1.1"/>
<text x="29.20" y="271.90" font-size="10" text-anchor="start" fill="#000" font-weight="normal" stroke="#000" stroke-width="0.18" >no plasmid + LPS</text>
<rect x="11.00" y="279.40" width="11.80" height="7.60" fill="#9a9aea" stroke="#101030" stroke-width="1.1"/>
<text x="29.20" y="286.60" font-size="10" text-anchor="start" fill="#000" font-weight="normal" stroke="#000" stroke-width="0.18" >5 ng</text>
<rect x="71.60" y="279.40" width="11.80" height="7.60" fill="#f2b4b4" stroke="#301010" stroke-width="1.1"/>
<text x="90.00" y="286.60" font-size="10" text-anchor="start" fill="#000" font-weight="normal" stroke="#000" stroke-width="0.18" >5 ng + LPS</text>
<rect x="11.00" y="294.70" width="11.80" height="7.60" fill="#6a6ae0" stroke="#101030" stroke-width="1.1"/>
<text x="29.20" y="301.90" font-size="10" text-anchor="start" fill="#000" font-weight="normal" stroke="#000" stroke-width="0.18" >10 ng</text>
<rect x="71.60" y="294.70" width="11.80" height="7.60" fill="#e89090" stroke="#301010" stroke-width="1.1"/>
<text x="90.00" y="301.90" font-size="10" text-anchor="start" fill="#000" font-weight="normal" stroke="#000" stroke-width="0.18" >10 ng + LPS</text>
<rect x="11.00" y="312.00" width="11.80" height="7.60" fill="#0a0ae0" stroke="#101030" stroke-width="1.1"/>
<text x="29.20" y="319.20" font-size="10" text-anchor="start" fill="#000" font-weight="normal" stroke="#000" stroke-width="0.18" >25 ng</text>
<rect x="71.60" y="312.00" width="11.80" height="7.60" fill="#d85050" stroke="#301010" stroke-width="1.1"/>
<text x="90.00" y="319.20" font-size="10" text-anchor="start" fill="#000" font-weight="normal" stroke="#000" stroke-width="0.18" >25 ng + LPS</text>
<rect x="11.00" y="329.30" width="11.80" height="7.60" fill="#0000b4" stroke="#101030" stroke-width="1.1"/>
<text x="29.20" y="336.50" font-size="10" text-anchor="start" fill="#000" font-weight="normal" stroke="#000" stroke-width="0.18" >50 ng</text>
<rect x="71.60" y="329.30" width="11.80" height="7.60" fill="#d20a14" stroke="#301010" stroke-width="1.1"/>
<text x="90.00" y="336.50" font-size="10" text-anchor="start" fill="#000" font-weight="normal" stroke="#000" stroke-width="0.18" >50 ng + LPS</text>
<line x1="61.30" y1="347.00" x2="61.30" y2="759.00" stroke="#000" stroke-width="1.1"/>
<line x1="60.80" y1="758.60" x2="184.50" y2="758.60" stroke="#000" stroke-width="1.1"/>
<line x1="61.50" y1="758.60" x2="61.50" y2="761.30" stroke="#000" stroke-width="1"/>
<text x="61.50" y="772.00" font-size="10" text-anchor="middle" fill="#000" font-weight="normal" stroke="#000" stroke-width="0.18" >0</text>
<line x1="86.00" y1="758.60" x2="86.00" y2="761.30" stroke="#000" stroke-width="1"/>
<text x="86.00" y="772.00" font-size="10" text-anchor="middle" fill="#000" font-weight="normal" stroke="#000" stroke-width="0.18" >2</text>
<line x1="110.50" y1="758.60" x2="110.50" y2="761.30" stroke="#000" stroke-width="1"/>
<text x="110.50" y="772.00" font-size="10" text-anchor="middle" fill="#000" font-weight="normal" stroke="#000" stroke-width="0.18" >4</text>
<line x1="135.00" y1="758.60" x2="135.00" y2="761.30" stroke="#000" stroke-width="1"/>
<text x="135.00" y="772.00" font-size="10" text-anchor="middle" fill="#000" font-weight="normal" stroke="#000" stroke-width="0.18" >6</text>
<line x1="159.50" y1="758.60" x2="159.50" y2="761.30" stroke="#000" stroke-width="1"/>
<text x="159.50" y="772.00" font-size="10" text-anchor="middle" fill="#000" font-weight="normal" stroke="#000" stroke-width="0.18" >8</text>
<line x1="184.00" y1="758.60" x2="184.00" y2="761.30" stroke="#000" stroke-width="1"/>
<text x="184.00" y="772.00" font-size="10" text-anchor="middle" fill="#000" font-weight="normal" stroke="#000" stroke-width="0.18" >10</text>
<text x="108.00" y="785.50" font-size="9.9" text-anchor="middle" fill="#000" font-weight="normal" stroke="#000" stroke-width="0.18" >NF-κB activation relative to WT (fold)</text>
<line x1="58.30" y1="373.60" x2="61.30" y2="373.60" stroke="#000" stroke-width="1"/>
<text x="39.60" y="377.20" font-size="10" text-anchor="end" fill="#000" font-weight="normal" stroke="#000" stroke-width="0.18" >T294P</text>
<path d="M48.3 358.10 L55.2 358.10 L48.6 375.10 Z" fill="#fff" stroke="#000" stroke-width="1"/>
<path d="M48.3 377.40 L55.2 377.40 L48.6 394.40 Z" fill="#fff" stroke="#000" stroke-width="1"/>
<line x1="71.70" y1="359.46" x2="75.60" y2="359.46" stroke="#000" stroke-width="1.1"/>
<line x1="75.60" y1="357.86" x2="75.60" y2="361.06" stroke="#000" stroke-width="1.3"/>
<rect x="61.30" y="357.10" width="10.40" height="4.72" fill="#d20a14" stroke="#000" stroke-width="0.9"/>
<rect x="61.30" y="376.50" width="0.70" height="4.72" fill="#0000b4" stroke="#000" stroke-width="0.9"/>
<rect x="61.30" y="361.82" width="5.70" height="4.72" fill="#d85050" stroke="#000" stroke-width="0.9"/>
<rect x="61.30" y="381.22" width="0.70" height="4.72" fill="#0a0ae0" stroke="#000" stroke-width="0.9"/>
<line x1="70.80" y1="368.90" x2="75.60" y2="368.90" stroke="#000" stroke-width="1.1"/>
<line x1="75.60" y1="367.30" x2="75.60" y2="370.50" stroke="#000" stroke-width="1.3"/>
<rect x="61.30" y="366.54" width="9.50" height="4.72" fill="#e89090" stroke="#000" stroke-width="0.9"/>
<rect x="61.30" y="385.94" width="0.70" height="4.72" fill="#6a6ae0" stroke="#000" stroke-width="0.9"/>
<rect x="61.30" y="371.26" width="4.70" height="4.72" fill="#f2b4b4" stroke="#000" stroke-width="0.9"/>
<rect x="61.30" y="390.66" width="0.70" height="4.72" fill="#9a9aea" stroke="#000" stroke-width="0.9"/>
<line x1="58.30" y1="417.20" x2="61.30" y2="417.20" stroke="#000" stroke-width="1"/>
<text x="39.60" y="420.80" font-size="10" text-anchor="end" fill="#000" font-weight="normal" stroke="#000" stroke-width="0.18" >S243N</text>
<path d="M48.3 401.70 L55.2 401.70 L48.6 418.70 Z" fill="#fff" stroke="#000" stroke-width="1"/>
<path d="M48.3 421.00 L55.2 421.00 L48.6 438.00 Z" fill="#fff" stroke="#000" stroke-width="1"/>
<rect x="61.30" y="400.70" width="14.30" height="4.72" fill="#d20a14" stroke="#000" stroke-width="0.9"/>
<line x1="71.70" y1="422.46" x2="73.50" y2="422.46" stroke="#000" stroke-width="1.1"/>
<line x1="73.50" y1="420.86" x2="73.50" y2="424.06" stroke="#000" stroke-width="1.3"/>
<rect x="61.30" y="420.10" width="10.40" height="4.72" fill="#0000b4" stroke="#000" stroke-width="0.9"/>
<line x1="83.30" y1="407.78" x2="85.00" y2="407.78" stroke="#000" stroke-width="1.1"/>
<line x1="85.00" y1="406.18" x2="85.00" y2="409.38" stroke="#000" stroke-width="1.3"/>
<rect x="61.30" y="405.42" width="22.00" height="4.72" fill="#d85050" stroke="#000" stroke-width="0.9"/>
<rect x="61.30" y="424.82" width="7.20" height="4.72" fill="#0a0ae0" stroke="#000" stroke-width="0.9"/>
<line x1="92.30" y1="412.50" x2="98.60" y2="412.50" stroke="#000" stroke-width="1.1"/>
<line x1="98.60" y1="410.90" x2="98.60" y2="414.10" stroke="#000" stroke-width="1.3"/>
<rect x="61.30" y="410.14" width="31.00" height="4.72" fill="#e89090" stroke="#000" stroke-width="0.9"/>
<rect x="61.30" y="429.54" width="9.70" height="4.72" fill="#6a6ae0" stroke="#000" stroke-width="0.9"/>
<line x1="88.00" y1="417.22" x2="91.00" y2="417.22" stroke="#000" stroke-width="1.1"/>
<line x1="91.00" y1="415.62" x2="91.00" y2="418.82" stroke="#000" stroke-width="1.3"/>
<rect x="61.30" y="414.86" width="26.70" height="4.72" fill="#f2b4b4" stroke="#000" stroke-width="0.9"/>
<rect x="61.30" y="434.26" width="6.70" height="4.72" fill="#9a9aea" stroke="#000" stroke-width="0.9"/>
<line x1="58.30" y1="460.80" x2="61.30" y2="460.80" stroke="#000" stroke-width="1"/>
<text x="39.60" y="464.40" font-size="10" text-anchor="end" fill="#000" font-weight="normal" stroke="#000" stroke-width="0.18" >S222R</text>
<path d="M48.3 445.30 L55.2 445.30 L48.6 462.30 Z" fill="#fff" stroke="#000" stroke-width="1"/>
<path d="M48.3 464.60 L55.2 464.60 L48.6 481.60 Z" fill="#fff" stroke="#000" stroke-width="1"/>
<line x1="82.30" y1="446.66" x2="85.80" y2="446.66" stroke="#000" stroke-width="1.1"/>
<line x1="85.80" y1="445.06" x2="85.80" y2="448.26" stroke="#000" stroke-width="1.3"/>
<rect x="61.30" y="444.30" width="21.00" height="4.72" fill="#d20a14" stroke="#000" stroke-width="0.9"/>
<rect x="61.30" y="463.70" width="2.70" height="4.72" fill="#0000b4" stroke="#000" stroke-width="0.9"/>
<line x1="76.50" y1="451.38" x2="79.40" y2="451.38" stroke="#000" stroke-width="1.1"/>
<line x1="79.40" y1="449.78" x2="79.40" y2="452.98" stroke="#000" stroke-width="1.3"/>
<rect x="61.30" y="449.02" width="15.20" height="4.72" fill="#d85050" stroke="#000" stroke-width="0.9"/>
<rect x="61.30" y="468.42" width="1.70" height="4.72" fill="#0a0ae0" stroke="#000" stroke-width="0.9"/>
<line x1="79.40" y1="456.10" x2="82.30" y2="456.10" stroke="#000" stroke-width="1.1"/>
<line x1="82.30" y1="454.50" x2="82.30" y2="457.70" stroke="#000" stroke-width="1.3"/>
<rect x="61.30" y="453.74" width="18.10" height="4.72" fill="#e89090" stroke="#000" stroke-width="0.9"/>
<rect x="61.30" y="473.14" width="2.70" height="4.72" fill="#6a6ae0" stroke="#000" stroke-width="0.9"/>
<line x1="80.40" y1="460.82" x2="84.20" y2="460.82" stroke="#000" stroke-width="1.1"/>
<line x1="84.20" y1="459.22" x2="84.20" y2="462.42" stroke="#000" stroke-width="1.3"/>
<rect x="61.30" y="458.46" width="19.10" height="4.72" fill="#f2b4b4" stroke="#000" stroke-width="0.9"/>
<rect x="61.30" y="477.86" width="1.70" height="4.72" fill="#9a9aea" stroke="#000" stroke-width="0.9"/>
<line x1="58.30" y1="504.40" x2="61.30" y2="504.40" stroke="#000" stroke-width="1"/>
<text x="39.60" y="508.00" font-size="10" text-anchor="end" fill="#000" font-weight="normal" stroke="#000" stroke-width="0.18" >I220T</text>
<path d="M48.3 488.90 L55.2 488.90 L48.6 505.90 Z" fill="#fff" stroke="#000" stroke-width="1"/>
<path d="M48.3 508.20 L55.2 508.20 L48.6 525.20 Z" fill="#fff" stroke="#000" stroke-width="1"/>
<line x1="93.80" y1="490.26" x2="95.40" y2="490.26" stroke="#000" stroke-width="1.1"/>
<line x1="95.40" y1="488.66" x2="95.40" y2="491.86" stroke="#000" stroke-width="1.3"/>
<rect x="61.30" y="487.90" width="32.50" height="4.72" fill="#d20a14" stroke="#000" stroke-width="0.9"/>
<line x1="74.60" y1="509.66" x2="76.00" y2="509.66" stroke="#000" stroke-width="1.1"/>
<line x1="76.00" y1="508.06" x2="76.00" y2="511.26" stroke="#000" stroke-width="1.3"/>
<rect x="61.30" y="507.30" width="13.30" height="4.72" fill="#0000b4" stroke="#000" stroke-width="0.9"/>
<line x1="88.00" y1="494.98" x2="89.60" y2="494.98" stroke="#000" stroke-width="1.1"/>
<line x1="89.60" y1="493.38" x2="89.60" y2="496.58" stroke="#000" stroke-width="1.3"/>
<rect x="61.30" y="492.62" width="26.70" height="4.72" fill="#d85050" stroke="#000" stroke-width="0.9"/>
<line x1="75.00" y1="514.38" x2="76.00" y2="514.38" stroke="#000" stroke-width="1.1"/>
<line x1="76.00" y1="512.78" x2="76.00" y2="515.98" stroke="#000" stroke-width="1.3"/>
<rect x="61.30" y="512.02" width="13.70" height="4.72" fill="#0a0ae0" stroke="#000" stroke-width="0.9"/>
<line x1="97.30" y1="499.70" x2="101.00" y2="499.70" stroke="#000" stroke-width="1.1"/>
<line x1="101.00" y1="498.10" x2="101.00" y2="501.30" stroke="#000" stroke-width="1.3"/>
<rect x="61.30" y="497.34" width="36.00" height="4.72" fill="#e89090" stroke="#000" stroke-width="0.9"/>
<line x1="75.00" y1="519.10" x2="77.50" y2="519.10" stroke="#000" stroke-width="1.1"/>
<line x1="77.50" y1="517.50" x2="77.50" y2="520.70" stroke="#000" stroke-width="1.3"/>
<rect x="61.30" y="516.74" width="13.70" height="4.72" fill="#6a6ae0" stroke="#000" stroke-width="0.9"/>
<line x1="96.00" y1="504.42" x2="98.60" y2="504.42" stroke="#000" stroke-width="1.1"/>
<line x1="98.60" y1="502.82" x2="98.60" y2="506.02" stroke="#000" stroke-width="1.3"/>
<rect x="61.30" y="502.06" width="34.70" height="4.72" fill="#f2b4b4" stroke="#000" stroke-width="0.9"/>
<line x1="74.60" y1="523.82" x2="76.00" y2="523.82" stroke="#000" stroke-width="1.1"/>
<line x1="76.00" y1="522.22" x2="76.00" y2="525.42" stroke="#000" stroke-width="1.3"/>
<rect x="61.30" y="521.46" width="13.30" height="4.72" fill="#9a9aea" stroke="#000" stroke-width="0.9"/>
<line x1="58.30" y1="548.00" x2="61.30" y2="548.00" stroke="#000" stroke-width="1"/>
<text x="39.60" y="551.60" font-size="10" text-anchor="end" fill="#000" font-weight="normal" stroke="#000" stroke-width="0.18" >S219C</text>
<path d="M48.3 532.50 L55.2 532.50 L48.6 549.50 Z" fill="#fff" stroke="#000" stroke-width="1"/>
<path d="M48.3 551.80 L55.2 551.80 L48.6 568.80 Z" fill="#fff" stroke="#000" stroke-width="1"/>
<line x1="87.00" y1="533.86" x2="93.00" y2="533.86" stroke="#000" stroke-width="1.1"/>
<line x1="93.00" y1="532.26" x2="93.00" y2="535.46" stroke="#000" stroke-width="1.3"/>
<rect x="61.30" y="531.50" width="25.70" height="4.72" fill="#d20a14" stroke="#000" stroke-width="0.9"/>
<rect x="61.30" y="550.90" width="3.70" height="4.72" fill="#0000b4" stroke="#000" stroke-width="0.9"/>
<line x1="90.40" y1="538.58" x2="92.90" y2="538.58" stroke="#000" stroke-width="1.1"/>
<line x1="92.90" y1="536.98" x2="92.90" y2="540.18" stroke="#000" stroke-width="1.3"/>
<rect x="61.30" y="536.22" width="29.10" height="4.72" fill="#d85050" stroke="#000" stroke-width="0.9"/>
<rect x="61.30" y="555.62" width="2.70" height="4.72" fill="#0a0ae0" stroke="#000" stroke-width="0.9"/>
<line x1="94.20" y1="543.30" x2="97.30" y2="543.30" stroke="#000" stroke-width="1.1"/>
<line x1="97.30" y1="541.70" x2="97.30" y2="544.90" stroke="#000" stroke-width="1.3"/>
<rect x="61.30" y="540.94" width="32.90" height="4.72" fill="#e89090" stroke="#000" stroke-width="0.9"/>
<rect x="61.30" y="560.34" width="2.20" height="4.72" fill="#6a6ae0" stroke="#000" stroke-width="0.9"/>
<line x1="80.80" y1="548.02" x2="86.00" y2="548.02" stroke="#000" stroke-width="1.1"/>
<line x1="86.00" y1="546.42" x2="86.00" y2="549.62" stroke="#000" stroke-width="1.3"/>
<rect x="61.30" y="545.66" width="19.50" height="4.72" fill="#f2b4b4" stroke="#000" stroke-width="0.9"/>
<rect x="61.30" y="565.06" width="0.70" height="4.72" fill="#9a9aea" stroke="#000" stroke-width="0.9"/>
<line x1="58.30" y1="591.60" x2="61.30" y2="591.60" stroke="#000" stroke-width="1"/>
<text x="39.60" y="595.20" font-size="10" text-anchor="end" fill="#000" font-weight="normal" stroke="#000" stroke-width="0.18" >V217F</text>
<path d="M48.3 576.10 L55.2 576.10 L48.6 593.10 Z" fill="#fff" stroke="#000" stroke-width="1"/>
<path d="M48.3 595.40 L55.2 595.40 L48.6 612.40 Z" fill="#fff" stroke="#000" stroke-width="1"/>
<line x1="128.40" y1="577.46" x2="131.80" y2="577.46" stroke="#000" stroke-width="1.1"/>
<line x1="131.80" y1="575.86" x2="131.80" y2="579.06" stroke="#000" stroke-width="1.3"/>
<rect x="61.30" y="575.10" width="67.10" height="4.72" fill="#d20a14" stroke="#000" stroke-width="0.9"/>
<line x1="95.40" y1="596.86" x2="106.50" y2="596.86" stroke="#000" stroke-width="1.1"/>
<line x1="106.50" y1="595.26" x2="106.50" y2="598.46" stroke="#000" stroke-width="1.3"/>
<rect x="61.30" y="594.50" width="34.10" height="4.72" fill="#0000b4" stroke="#000" stroke-width="0.9"/>
<line x1="94.20" y1="582.18" x2="106.50" y2="582.18" stroke="#000" stroke-width="1.1"/>
<line x1="106.50" y1="580.58" x2="106.50" y2="583.78" stroke="#000" stroke-width="1.3"/>
<rect x="61.30" y="579.82" width="32.90" height="4.72" fill="#d85050" stroke="#000" stroke-width="0.9"/>
<line x1="89.60" y1="601.58" x2="90.50" y2="601.58" stroke="#000" stroke-width="1.1"/>
<line x1="90.50" y1="599.98" x2="90.50" y2="603.18" stroke="#000" stroke-width="1.3"/>
<rect x="61.30" y="599.22" width="28.30" height="4.72" fill="#0a0ae0" stroke="#000" stroke-width="0.9"/>
<line x1="95.00" y1="586.90" x2="96.50" y2="586.90" stroke="#000" stroke-width="1.1"/>
<line x1="96.50" y1="585.30" x2="96.50" y2="588.50" stroke="#000" stroke-width="1.3"/>
<rect x="61.30" y="584.54" width="33.70" height="4.72" fill="#e89090" stroke="#000" stroke-width="0.9"/>
<line x1="76.50" y1="606.30" x2="78.00" y2="606.30" stroke="#000" stroke-width="1.1"/>
<line x1="78.00" y1="604.70" x2="78.00" y2="607.90" stroke="#000" stroke-width="1.3"/>
<rect x="61.30" y="603.94" width="15.20" height="4.72" fill="#6a6ae0" stroke="#000" stroke-width="0.9"/>
<line x1="116.20" y1="591.62" x2="128.80" y2="591.62" stroke="#000" stroke-width="1.1"/>
<line x1="128.80" y1="590.02" x2="128.80" y2="593.22" stroke="#000" stroke-width="1.3"/>
<rect x="61.30" y="589.26" width="54.90" height="4.72" fill="#f2b4b4" stroke="#000" stroke-width="0.9"/>
<line x1="74.20" y1="611.02" x2="75.80" y2="611.02" stroke="#000" stroke-width="1.1"/>
<line x1="75.80" y1="609.42" x2="75.80" y2="612.62" stroke="#000" stroke-width="1.3"/>
<rect x="61.30" y="608.66" width="12.90" height="4.72" fill="#9a9aea" stroke="#000" stroke-width="0.9"/>
<line x1="58.30" y1="635.20" x2="61.30" y2="635.20" stroke="#000" stroke-width="1"/>
<text x="39.60" y="638.80" font-size="10" text-anchor="end" fill="#000" font-weight="normal" stroke="#000" stroke-width="0.18" >L265P</text>
<path d="M48.3 619.70 L55.2 619.70 L48.6 636.70 Z" fill="#fff" stroke="#000" stroke-width="1"/>
<path d="M48.3 639.00 L55.2 639.00 L48.6 656.00 Z" fill="#fff" stroke="#000" stroke-width="1"/>
<line x1="128.40" y1="621.06" x2="132.30" y2="621.06" stroke="#000" stroke-width="1.1"/>
<line x1="132.30" y1="619.46" x2="132.30" y2="622.66" stroke="#000" stroke-width="1.3"/>
<rect x="61.30" y="618.70" width="67.10" height="4.72" fill="#d20a14" stroke="#000" stroke-width="0.9"/>
<rect x="61.30" y="638.10" width="24.70" height="4.72" fill="#0000b4" stroke="#000" stroke-width="0.9"/>
<line x1="117.30" y1="625.78" x2="123.00" y2="625.78" stroke="#000" stroke-width="1.1"/>
<line x1="123.00" y1="624.18" x2="123.00" y2="627.38" stroke="#000" stroke-width="1.3"/>
<rect x="61.30" y="623.42" width="56.00" height="4.72" fill="#d85050" stroke="#000" stroke-width="0.9"/>
<rect x="61.30" y="642.82" width="18.40" height="4.72" fill="#0a0ae0" stroke="#000" stroke-width="0.9"/>
<line x1="128.20" y1="630.50" x2="135.80" y2="630.50" stroke="#000" stroke-width="1.1"/>
<line x1="135.80" y1="628.90" x2="135.80" y2="632.10" stroke="#000" stroke-width="1.3"/>
<rect x="61.30" y="628.14" width="66.90" height="4.72" fill="#e89090" stroke="#000" stroke-width="0.9"/>
<rect x="61.30" y="647.54" width="8.20" height="4.72" fill="#6a6ae0" stroke="#000" stroke-width="0.9"/>
<line x1="135.00" y1="635.22" x2="141.50" y2="635.22" stroke="#000" stroke-width="1.1"/>
<line x1="141.50" y1="633.62" x2="141.50" y2="636.82" stroke="#000" stroke-width="1.3"/>
<rect x="61.30" y="632.86" width="73.70" height="4.72" fill="#f2b4b4" stroke="#000" stroke-width="0.9"/>
<rect x="61.30" y="652.26" width="3.70" height="4.72" fill="#9a9aea" stroke="#000" stroke-width="0.9"/>
<line x1="58.30" y1="678.80" x2="61.30" y2="678.80" stroke="#000" stroke-width="1"/>
<text x="39.60" y="682.40" font-size="10" text-anchor="end" fill="#000" font-weight="normal" stroke="#000" stroke-width="0.18" >M232T</text>
<path d="M48.3 663.30 L55.2 663.30 L48.6 680.30 Z" fill="#fff" stroke="#000" stroke-width="1"/>
<path d="M48.3 682.60 L55.2 682.60 L48.6 699.60 Z" fill="#fff" stroke="#000" stroke-width="1"/>
<line x1="103.50" y1="664.66" x2="113.40" y2="664.66" stroke="#000" stroke-width="1.1"/>
<line x1="113.40" y1="663.06" x2="113.40" y2="666.26" stroke="#000" stroke-width="1.3"/>
<rect x="61.30" y="662.30" width="42.20" height="4.72" fill="#d20a14" stroke="#000" stroke-width="0.9"/>
<rect x="61.30" y="681.70" width="22.10" height="4.72" fill="#0000b4" stroke="#000" stroke-width="0.9"/>
<line x1="85.00" y1="669.38" x2="92.60" y2="669.38" stroke="#000" stroke-width="1.1"/>
<line x1="92.60" y1="667.78" x2="92.60" y2="670.98" stroke="#000" stroke-width="1.3"/>
<rect x="61.30" y="667.02" width="23.70" height="4.72" fill="#d85050" stroke="#000" stroke-width="0.9"/>
<rect x="61.30" y="686.42" width="16.70" height="4.72" fill="#0a0ae0" stroke="#000" stroke-width="0.9"/>
<line x1="89.60" y1="674.10" x2="93.00" y2="674.10" stroke="#000" stroke-width="1.1"/>
<line x1="93.00" y1="672.50" x2="93.00" y2="675.70" stroke="#000" stroke-width="1.3"/>
<rect x="61.30" y="671.74" width="28.30" height="4.72" fill="#e89090" stroke="#000" stroke-width="0.9"/>
<rect x="61.30" y="691.14" width="17.50" height="4.72" fill="#6a6ae0" stroke="#000" stroke-width="0.9"/>
<line x1="97.20" y1="678.82" x2="100.50" y2="678.82" stroke="#000" stroke-width="1.1"/>
<line x1="100.50" y1="677.22" x2="100.50" y2="680.42" stroke="#000" stroke-width="1.3"/>
<rect x="61.30" y="676.46" width="35.90" height="4.72" fill="#f2b4b4" stroke="#000" stroke-width="0.9"/>
<rect x="61.30" y="695.86" width="17.50" height="4.72" fill="#9a9aea" stroke="#000" stroke-width="0.9"/>
<line x1="58.30" y1="722.40" x2="61.30" y2="722.40" stroke="#000" stroke-width="1"/>
<text x="39.60" y="726.00" font-size="10" text-anchor="end" fill="#000" font-weight="normal" stroke="#000" stroke-width="0.18" >WT</text>
<path d="M48.3 706.90 L55.2 706.90 L48.6 723.90 Z" fill="#fff" stroke="#000" stroke-width="1"/>
<path d="M48.3 726.20 L55.2 726.20 L48.6 743.20 Z" fill="#fff" stroke="#000" stroke-width="1"/>
<line x1="64.00" y1="708.26" x2="65.00" y2="708.26" stroke="#000" stroke-width="1.1"/>
<line x1="65.00" y1="706.66" x2="65.00" y2="709.86" stroke="#000" stroke-width="1.3"/>
<rect x="61.30" y="705.90" width="2.70" height="4.72" fill="#d20a14" stroke="#000" stroke-width="0.9"/>
<rect x="61.30" y="725.30" width="0.70" height="4.72" fill="#0000b4" stroke="#000" stroke-width="0.9"/>
<line x1="64.00" y1="712.98" x2="65.00" y2="712.98" stroke="#000" stroke-width="1.1"/>
<line x1="65.00" y1="711.38" x2="65.00" y2="714.58" stroke="#000" stroke-width="1.3"/>
<rect x="61.30" y="710.62" width="2.70" height="4.72" fill="#d85050" stroke="#000" stroke-width="0.9"/>
<rect x="61.30" y="730.02" width="0.70" height="4.72" fill="#0a0ae0" stroke="#000" stroke-width="0.9"/>
<line x1="64.50" y1="717.70" x2="65.50" y2="717.70" stroke="#000" stroke-width="1.1"/>
<line x1="65.50" y1="716.10" x2="65.50" y2="719.30" stroke="#000" stroke-width="1.3"/>
<rect x="61.30" y="715.34" width="3.20" height="4.72" fill="#e89090" stroke="#000" stroke-width="0.9"/>
<rect x="61.30" y="734.74" width="0.70" height="4.72" fill="#6a6ae0" stroke="#000" stroke-width="0.9"/>
<line x1="66.50" y1="722.42" x2="67.50" y2="722.42" stroke="#000" stroke-width="1.1"/>
<line x1="67.50" y1="720.82" x2="67.50" y2="724.02" stroke="#000" stroke-width="1.3"/>
<rect x="61.30" y="720.06" width="5.20" height="4.72" fill="#f2b4b4" stroke="#000" stroke-width="0.9"/>
<rect x="61.30" y="739.46" width="0.70" height="4.72" fill="#9a9aea" stroke="#000" stroke-width="0.9"/>
<line x1="58.30" y1="751.50" x2="61.30" y2="751.50" stroke="#000" stroke-width="1"/>
<text x="39.60" y="755.10" font-size="10" text-anchor="end" fill="#000" font-weight="normal" stroke="#000" stroke-width="0.18" >EV</text>
<line x1="163.50" y1="751.50" x2="169.00" y2="751.50" stroke="#000" stroke-width="1.1"/>
<line x1="169.00" y1="749.90" x2="169.00" y2="753.10" stroke="#000" stroke-width="1.3"/>
<rect x="61.30" y="749.20" width="102.20" height="4.60" fill="#000" stroke="#000" stroke-width="0.9"/>
<rect x="61.30" y="753.80" width="6.40" height="4.60" fill="#fff" stroke="#000" stroke-width="1.0"/>
</g></svg>
</body></html>
